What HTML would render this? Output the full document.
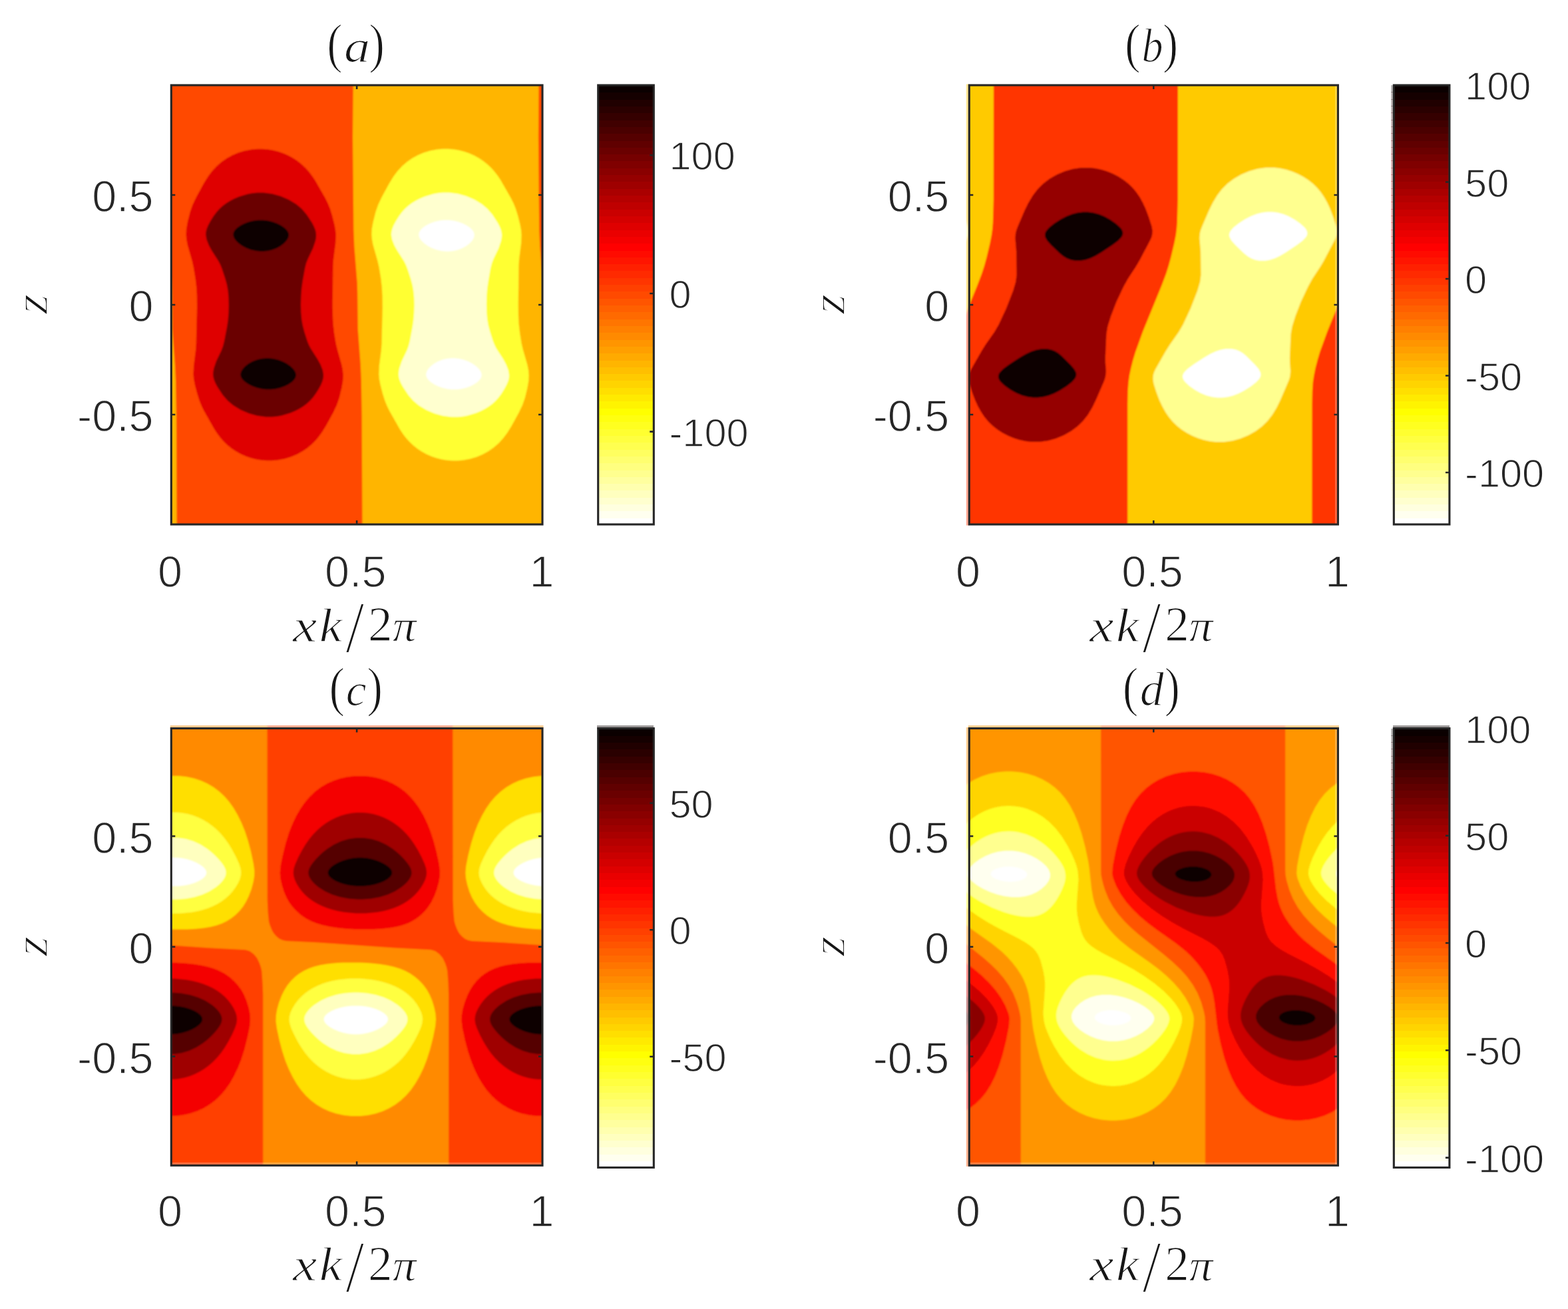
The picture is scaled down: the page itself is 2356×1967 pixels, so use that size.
<!DOCTYPE html>
<html lang="en"><head><meta charset="utf-8"><title>Contour panels (a)-(d)</title>
<style>html,body{margin:0;padding:0;background:#fff}body{width:2356px;height:1967px;overflow:hidden}svg{display:block}.t,.cb{stroke:#fff;stroke-width:1.3px;paint-order:fill stroke}.t{font-family:"Liberation Sans",sans-serif;font-size:66.5px;fill:#262626}.cb{font-family:"Liberation Sans",sans-serif;font-size:59.5px;fill:#262626}.m{font-family:"Liberation Serif",serif;font-style:italic;font-size:100px;fill:#161616;stroke:#fff;stroke-width:1.8px;paint-order:fill stroke}.r{font-style:normal}</style></head><body>
<svg width="2356" height="1967" viewBox="0 0 2356 1967">
<rect width="2356" height="1967" fill="#fff"/>
<defs><filter id="soft" x="-2%" y="-2%" width="104%" height="104%"><feGaussianBlur stdDeviation="0.9"/></filter></defs>
<g id="panel-a">
<defs>
<clipPath id="clip_a"><rect x="257.3" y="128.0" width="557.7" height="660.0"/></clipPath>
<g id="fill_a" filter="url(#soft)">
<rect x="249.3" y="120.0" width="573.7" height="676.0" fill="#ffb500"/>
<path fill="#ff4a00" d="M251.9,118.0L251.2,206.2L252.5,345.5L253.6,370.5L257.8,425.0L258.3,441.0L258.9,494.8L262.9,548.2L264.0,571.5L264.9,624.0L265.6,798.0L544.5,798.0L543.7,624.0L542.8,571.5L541.8,548.2L537.8,494.8L537.2,441.0L536.7,425.0L532.4,370.5L531.4,345.5L530.0,206.2L530.8,118.0ZM809.6,118.0L808.9,206.2L810.2,345.5L811.3,370.5L815.5,425.0L816.0,441.0L816.6,494.8L820.6,548.2L821.7,571.5L822.6,624.0L823.3,798.0L1102.2,798.0L1101.4,624.0L1100.5,571.5L1099.5,548.2L1095.5,494.8L1094.9,441.0L1094.4,425.0L1090.1,370.5L1089.1,345.5L1087.7,206.2L1088.5,118.0Z"/>
<path fill="#df0000" d="M387.6,223.8L378.2,224.5L367.5,226.5L358.3,229.2L349.4,233.0L340.7,237.8L332.8,243.2L325.6,249.5L318.8,256.8L312.6,265.0L306.2,275.2L294.8,296.2L289.3,307.8L285.5,318.8L281.8,333.5L279.9,344.2L279.5,352.8L280.1,359.8L281.7,368.2L288.4,391.5L290.5,400.8L293.5,418.8L295.1,432.5L295.8,445.8L295.9,462.8L294.6,516.8L293.9,526.5L291.0,549.8L290.4,562.2L291.0,569.5L292.5,577.5L296.1,591.2L299.4,601.8L302.5,609.5L306.4,617.5L322.3,645.5L326.8,652.2L331.4,658.2L336.3,663.8L341.5,668.8L348.0,674.0L354.8,678.5L362.1,682.5L369.4,685.8L376.7,688.2L384.6,690.2L392.0,691.5L401.4,692.2L407.7,692.2L417.1,691.5L427.8,689.5L436.9,686.8L445.9,683.0L454.6,678.2L462.6,672.8L470.1,666.2L476.9,659.0L483.3,650.5L489.7,640.2L500.8,620.0L506.2,608.5L509.9,597.8L513.3,583.8L515.3,572.5L515.8,563.8L515.1,556.5L513.5,548.2L506.9,525.0L504.8,516.0L502.2,500.2L500.7,486.5L500.1,474.5L499.8,458.0L500.5,399.5L501.2,389.5L504.3,365.5L504.8,353.0L504.2,345.8L502.6,337.5L499.2,323.8L496.0,313.5L492.9,306.0L488.9,297.8L473.3,270.5L468.7,263.8L464.1,257.8L459.1,252.2L453.8,247.2L447.3,242.0L440.5,237.5L433.2,233.5L425.8,230.2L418.6,227.8L410.7,225.8L403.2,224.5L393.8,223.8Z"/>
<path fill="#6a0000" d="M386.7,289.5L379.2,290.2L372.4,291.5L359.1,295.5L352.0,298.5L345.8,301.8L340.1,305.2L334.7,309.2L329.8,313.8L325.3,318.8L320.8,324.8L316.3,332.0L312.8,338.5L310.6,343.8L309.4,348.5L309.2,353.0L310.4,360.0L313.7,368.5L317.9,376.2L328.3,392.5L331.0,397.8L333.4,403.8L338.2,418.2L340.9,428.0L342.5,437.0L343.4,447.5L343.7,458.8L343.4,470.2L342.5,481.3L341.1,491.0L336.9,512.8L335.0,520.2L332.6,526.8L324.9,542.8L321.3,553.5L320.4,558.2L320.1,562.5L320.5,566.5L321.6,570.8L323.5,575.5L326.4,581.0L334.8,593.8L342.2,602.2L350.6,609.2L361.7,616.0L374.0,621.2L386.4,624.8L399.6,626.5L409.0,626.5L416.5,625.8L423.3,624.5L436.6,620.5L443.6,617.5L449.9,614.2L455.6,610.8L460.9,606.8L465.8,602.2L470.3,597.2L474.5,591.5L478.9,584.5L482.4,578.0L484.6,572.5L485.8,567.8L486.1,563.2L484.9,556.2L481.6,547.8L477.2,539.8L466.8,523.5L464.1,518.2L461.8,512.5L457.4,498.8L454.8,488.8L453.3,480.0L452.3,469.5L452.0,457.5L452.4,444.8L453.3,433.0L454.8,422.2L458.2,403.2L460.1,395.5L462.7,389.0L470.3,373.0L474.0,362.0L474.9,357.2L475.1,353.0L474.7,349.0L473.7,345.0L471.7,340.2L468.9,334.8L460.7,322.2L453.4,313.8L445.1,306.8L433.9,300.0L421.7,294.8L409.2,291.2L396.1,289.5Z"/>
<path fill="#0b0000" d="M387.8,330.8L381.4,331.5L374.0,333.2L367.3,335.8L361.0,339.0L356.1,342.5L352.7,346.0L350.8,349.5L350.4,353.2L351.5,357.2L354.3,361.5L358.7,365.8L364.4,369.8L370.1,372.8L376.7,375.2L384.1,377.0L391.0,377.8L396.1,377.8L402.9,377.0L409.1,375.5L415.7,373.0L421.5,369.8L426.7,365.8L430.8,361.2L433.2,357.0L434.0,353.0L433.2,349.2L431.0,345.8L427.4,342.2L422.3,338.8L416.3,335.8L409.5,333.2L402.1,331.5L395.7,330.8ZM399.0,538.2L392.2,539.0L386.0,540.5L379.5,543.0L373.6,546.2L368.4,550.2L364.4,554.8L362.0,559.0L361.3,563.0L362.1,566.8L364.3,570.2L367.9,573.8L373.1,577.2L379.1,580.2L385.9,582.8L393.4,584.5L399.7,585.2L407.7,585.2L414.0,584.5L421.4,582.8L428.1,580.2L434.0,577.2L439.0,573.8L442.6,570.0L444.4,566.5L444.9,562.8L443.7,558.8L440.9,554.5L436.5,550.2L430.8,546.2L425.0,543.2L418.4,540.8L411.1,539.0L404.2,538.2Z"/>
<path fill="#ffff30" d="M666.4,223.8L657.1,224.5L646.3,226.5L637.2,229.2L628.2,233.0L619.5,237.8L611.6,243.2L604.4,249.5L597.6,256.8L591.4,265.0L585.1,275.2L573.6,296.2L568.2,307.8L564.4,318.8L560.7,333.5L558.7,344.2L558.3,352.8L559.0,359.8L560.6,368.2L567.2,391.5L569.4,400.8L572.4,418.8L573.9,432.5L574.6,445.8L574.8,462.8L573.5,516.8L572.8,526.5L569.8,549.8L569.3,562.2L569.9,569.5L571.4,577.5L574.9,591.2L578.2,601.8L581.3,609.5L585.2,617.5L601.1,645.5L605.6,652.2L610.2,658.2L615.2,663.8L620.4,668.8L626.9,674.0L633.6,678.5L640.9,682.5L648.3,685.8L655.6,688.2L663.5,690.2L670.9,691.5L680.3,692.2L686.5,692.2L695.9,691.5L706.6,689.5L715.8,686.8L724.8,683.0L733.5,678.2L741.4,672.8L749.0,666.2L755.7,659.0L762.1,650.5L768.5,640.2L779.6,620.0L785.1,608.5L788.8,597.8L792.2,583.8L794.2,572.5L794.6,563.8L794.0,556.5L792.4,548.2L785.7,525.0L783.6,516.0L781.1,500.2L779.5,486.5L778.9,474.5L778.7,458.0L779.4,399.5L780.0,389.5L783.1,365.5L783.6,353.0L783.0,345.8L781.5,337.5L778.0,323.8L774.8,313.5L771.8,306.0L767.7,297.8L752.1,270.5L747.6,263.8L742.9,257.8L738.0,252.2L732.7,247.2L726.1,242.0L719.4,237.5L712.1,233.5L704.7,230.2L697.4,227.8L689.5,225.8L682.1,224.5L672.7,223.8Z"/>
<path fill="#ffffcf" d="M665.5,289.5L658.0,290.2L651.2,291.5L638.0,295.5L630.9,298.5L624.6,301.8L618.9,305.2L613.6,309.2L608.6,313.8L604.1,318.8L599.7,324.8L595.1,332.0L591.6,338.5L589.5,343.8L588.3,348.5L588.0,353.0L589.2,360.0L592.5,368.5L596.8,376.2L607.2,392.5L609.8,397.8L612.2,403.8L617.0,418.2L619.7,428.0L621.3,437.0L622.3,447.5L622.6,458.8L622.2,470.2L621.3,481.3L619.9,491.0L615.8,512.8L613.9,520.2L611.4,526.8L603.7,542.8L600.1,553.5L599.2,558.2L599.0,562.5L599.3,566.5L600.4,570.8L602.3,575.5L605.3,581.0L613.7,593.8L621.1,602.2L629.4,609.2L640.6,616.0L652.8,621.2L665.3,624.8L678.5,626.5L687.8,626.5L695.4,625.8L702.1,624.5L715.4,620.5L722.5,617.5L728.8,614.2L734.4,610.8L739.8,606.8L744.7,602.2L749.1,597.2L753.4,591.5L757.7,584.5L761.2,578.0L763.5,572.5L764.7,567.8L764.9,563.2L763.7,556.2L760.4,547.8L756.1,539.8L745.6,523.5L743.0,518.2L740.7,512.5L736.3,498.8L733.6,488.8L732.1,480.0L731.2,469.5L730.9,457.5L731.2,444.8L732.1,433.0L733.7,422.2L737.0,403.2L739.0,395.5L741.5,389.0L749.2,373.0L752.8,362.0L753.7,357.2L754.0,353.0L753.5,349.0L752.5,345.0L750.6,340.2L747.7,334.8L739.6,322.2L732.2,313.8L723.9,306.8L712.8,300.0L700.5,294.8L688.1,291.2L674.9,289.5Z"/>
<path fill="#ffffff" d="M666.6,330.8L660.3,331.5L652.9,333.2L646.1,335.8L639.8,339.0L634.9,342.5L631.6,346.0L629.7,349.5L629.2,353.2L630.3,357.2L633.2,361.5L637.5,365.8L643.2,369.8L649.0,372.8L655.6,375.2L662.9,377.0L669.8,377.8L674.9,377.8L681.7,377.0L688.0,375.5L694.5,373.0L700.4,369.8L705.6,365.8L709.7,361.2L712.1,357.0L712.8,353.0L712.0,349.2L709.8,345.8L706.3,342.2L701.1,338.8L695.2,335.8L688.3,333.2L680.9,331.5L674.6,330.8ZM677.9,538.2L671.1,539.0L664.8,540.5L658.3,543.0L652.5,546.2L647.3,550.2L643.2,554.8L640.9,559.0L640.1,563.0L641.0,566.8L643.2,570.2L646.8,573.8L651.9,577.2L657.9,580.2L664.8,582.8L672.2,584.5L678.6,585.2L686.5,585.2L692.9,584.5L700.2,582.8L707.0,580.2L712.8,577.2L717.8,573.8L721.4,570.0L723.3,566.5L723.7,562.8L722.6,558.8L719.7,554.5L715.3,550.2L709.6,546.2L703.9,543.2L697.2,540.8L689.9,539.0L683.0,538.2Z"/>
</g>
</defs>
<use href="#fill_a" clip-path="url(#clip_a)"/>
<path d="M536.1,788.0 v-6.0 M536.1,128.0 v6.0 M257.3,293.0 h6.0 M815.0,293.0 h-6.0 M257.3,458.0 h6.0 M815.0,458.0 h-6.0 M257.3,623.0 h6.0 M815.0,623.0 h-6.0" stroke="#262626" stroke-width="2.6" fill="none"/>
<rect x="257.3" y="128.0" width="557.7" height="660.0" fill="none" stroke="#262626" stroke-width="3.1"/>
<text class="t" x="255.5" y="882.2" text-anchor="middle">0</text>
<text class="t" x="534.3" y="882.2" text-anchor="middle">0.5</text>
<text class="t" x="814.0" y="882.2" text-anchor="middle">1</text>
<text class="t" x="230.6" y="318.2" text-anchor="end">0.5</text>
<text class="t" x="230.6" y="483.2" text-anchor="end">0</text>
<text class="t" x="230.6" y="648.2" text-anchor="end">-0.5</text>
<text class="m r" transform="translate(491.16,93.48) scale(0.6980,0.8200)">(</text>
<text class="m" transform="translate(516.96,92.62) scale(0.7814,0.6792)">a</text>
<text class="m r" transform="translate(554.25,93.48) scale(0.7154,0.8200)">)</text>
<text class="m" transform="translate(440.12,963.60) scale(0.8180,0.6923)">x</text>
<text class="m" transform="translate(479.76,963.60) scale(0.7814,0.7246)">k</text>
<text class="m r" transform="translate(519.30,980.29) scale(1.0109,1.1053)">/</text>
<text class="m r" transform="translate(553.10,962.90) scale(0.7325,0.7364)">2</text>
<text class="m" transform="translate(589.64,962.92) scale(0.7135,0.6774)">π</text>
<text class="m" style="stroke-width:2.6px" transform="translate(71.40,472.12) rotate(-90) scale(0.7792,0.7130)">z</text>
<g shape-rendering="crispEdges">
<rect x="898.7" y="777.69" width="83.6" height="11.31" fill="#ffffff"/>
<rect x="898.7" y="767.38" width="83.6" height="11.31" fill="#ffffef"/>
<rect x="898.7" y="757.06" width="83.6" height="11.31" fill="#ffffdf"/>
<rect x="898.7" y="746.75" width="83.6" height="11.31" fill="#ffffcf"/>
<rect x="898.7" y="736.44" width="83.6" height="11.31" fill="#ffffbf"/>
<rect x="898.7" y="726.12" width="83.6" height="11.31" fill="#ffffaf"/>
<rect x="898.7" y="715.81" width="83.6" height="11.31" fill="#ffff9f"/>
<rect x="898.7" y="705.50" width="83.6" height="11.31" fill="#ffff8f"/>
<rect x="898.7" y="695.19" width="83.6" height="11.31" fill="#ffff80"/>
<rect x="898.7" y="684.88" width="83.6" height="11.31" fill="#ffff70"/>
<rect x="898.7" y="674.56" width="83.6" height="11.31" fill="#ffff60"/>
<rect x="898.7" y="664.25" width="83.6" height="11.31" fill="#ffff50"/>
<rect x="898.7" y="653.94" width="83.6" height="11.31" fill="#ffff40"/>
<rect x="898.7" y="643.62" width="83.6" height="11.31" fill="#ffff30"/>
<rect x="898.7" y="633.31" width="83.6" height="11.31" fill="#ffff20"/>
<rect x="898.7" y="623.00" width="83.6" height="11.31" fill="#ffff10"/>
<rect x="898.7" y="612.69" width="83.6" height="11.31" fill="#ffff00"/>
<rect x="898.7" y="602.38" width="83.6" height="11.31" fill="#fff400"/>
<rect x="898.7" y="592.06" width="83.6" height="11.31" fill="#ffea00"/>
<rect x="898.7" y="581.75" width="83.6" height="11.31" fill="#ffdf00"/>
<rect x="898.7" y="571.44" width="83.6" height="11.31" fill="#ffd400"/>
<rect x="898.7" y="561.12" width="83.6" height="11.31" fill="#ffca00"/>
<rect x="898.7" y="550.81" width="83.6" height="11.31" fill="#ffbf00"/>
<rect x="898.7" y="540.50" width="83.6" height="11.31" fill="#ffb500"/>
<rect x="898.7" y="530.19" width="83.6" height="11.31" fill="#ffaa00"/>
<rect x="898.7" y="519.88" width="83.6" height="11.31" fill="#ff9f00"/>
<rect x="898.7" y="509.56" width="83.6" height="11.31" fill="#ff9500"/>
<rect x="898.7" y="499.25" width="83.6" height="11.31" fill="#ff8a00"/>
<rect x="898.7" y="488.94" width="83.6" height="11.31" fill="#ff8000"/>
<rect x="898.7" y="478.62" width="83.6" height="11.31" fill="#ff7500"/>
<rect x="898.7" y="468.31" width="83.6" height="11.31" fill="#ff6a00"/>
<rect x="898.7" y="458.00" width="83.6" height="11.31" fill="#ff6000"/>
<rect x="898.7" y="447.69" width="83.6" height="11.31" fill="#ff5500"/>
<rect x="898.7" y="437.38" width="83.6" height="11.31" fill="#ff4a00"/>
<rect x="898.7" y="427.06" width="83.6" height="11.31" fill="#ff4000"/>
<rect x="898.7" y="416.75" width="83.6" height="11.31" fill="#ff3500"/>
<rect x="898.7" y="406.44" width="83.6" height="11.31" fill="#ff2a00"/>
<rect x="898.7" y="396.12" width="83.6" height="11.31" fill="#ff2000"/>
<rect x="898.7" y="385.81" width="83.6" height="11.31" fill="#ff1500"/>
<rect x="898.7" y="375.50" width="83.6" height="11.31" fill="#ff0b00"/>
<rect x="898.7" y="365.19" width="83.6" height="11.31" fill="#ff0000"/>
<rect x="898.7" y="354.88" width="83.6" height="11.31" fill="#f40000"/>
<rect x="898.7" y="344.56" width="83.6" height="11.31" fill="#ea0000"/>
<rect x="898.7" y="334.25" width="83.6" height="11.31" fill="#df0000"/>
<rect x="898.7" y="323.94" width="83.6" height="11.31" fill="#d40000"/>
<rect x="898.7" y="313.62" width="83.6" height="11.31" fill="#ca0000"/>
<rect x="898.7" y="303.31" width="83.6" height="11.31" fill="#bf0000"/>
<rect x="898.7" y="293.00" width="83.6" height="11.31" fill="#b50000"/>
<rect x="898.7" y="282.69" width="83.6" height="11.31" fill="#aa0000"/>
<rect x="898.7" y="272.38" width="83.6" height="11.31" fill="#9f0000"/>
<rect x="898.7" y="262.06" width="83.6" height="11.31" fill="#950000"/>
<rect x="898.7" y="251.75" width="83.6" height="11.31" fill="#8a0000"/>
<rect x="898.7" y="241.44" width="83.6" height="11.31" fill="#800000"/>
<rect x="898.7" y="231.12" width="83.6" height="11.31" fill="#750000"/>
<rect x="898.7" y="220.81" width="83.6" height="11.31" fill="#6a0000"/>
<rect x="898.7" y="210.50" width="83.6" height="11.31" fill="#600000"/>
<rect x="898.7" y="200.19" width="83.6" height="11.31" fill="#550000"/>
<rect x="898.7" y="189.88" width="83.6" height="11.31" fill="#4a0000"/>
<rect x="898.7" y="179.56" width="83.6" height="11.31" fill="#400000"/>
<rect x="898.7" y="169.25" width="83.6" height="11.31" fill="#350000"/>
<rect x="898.7" y="158.94" width="83.6" height="11.31" fill="#2a0000"/>
<rect x="898.7" y="148.62" width="83.6" height="11.31" fill="#200000"/>
<rect x="898.7" y="138.31" width="83.6" height="11.31" fill="#150000"/>
<rect x="898.7" y="128.00" width="83.6" height="11.31" fill="#0b0000"/>
</g>
<text class="cb" x="1005.5" y="255.4">100</text>
<text class="cb" x="1005.5" y="463.1">0</text>
<text class="cb" x="1005.5" y="670.7">-100</text>
<path d="M982.3,233.3 h-6 M982.3,441.0 h-6 M982.3,648.6 h-6" stroke="#262626" stroke-width="2.6" fill="none"/>
<rect x="898.7" y="128.0" width="83.6" height="660.0" fill="none" stroke="#262626" stroke-width="3.1"/>
</g>
<g id="panel-b">
<defs>
<clipPath id="clip_b"><rect x="1456.3" y="128.0" width="554.1" height="660.0"/></clipPath>
<g id="fill_b" filter="url(#soft)">
<rect x="1448.3" y="120.0" width="570.1" height="676.0" fill="#ffca00"/>
<path fill="#ff3500" d="M1492.9,118.0L1492.8,299.8L1491.8,334.5L1491.0,344.5L1489.8,353.2L1487.4,365.8L1482.4,386.8L1479.0,399.2L1475.2,411.0L1468.5,428.8L1440.2,498.3L1429.2,528.5L1425.5,541.0L1422.3,553.2L1420.1,564.2L1418.6,574.2L1417.7,587.8L1417.3,607.0L1417.2,798.0L1694.3,798.0L1694.3,607.0L1694.7,587.8L1695.7,574.2L1697.1,564.2L1699.4,553.2L1702.5,541.0L1706.3,528.5L1717.2,498.3L1745.6,428.8L1752.3,411.0L1756.0,399.2L1759.4,386.8L1764.4,365.8L1766.9,353.2L1768.0,344.5L1768.8,334.5L1769.8,299.8L1769.9,118.0ZM2047.0,118.0L2046.9,299.8L2045.9,334.5L2045.1,344.5L2043.9,353.2L2041.5,365.8L2036.5,386.8L2033.1,399.2L2029.3,411.0L2022.6,428.8L1994.3,498.3L1983.3,528.5L1979.6,541.0L1976.4,553.2L1974.2,564.2L1972.7,574.2L1971.8,587.8L1971.4,607.0L1971.3,798.0L2248.4,798.0L2248.4,607.0L2248.8,587.8L2249.8,574.2L2251.2,564.2L2253.5,553.2L2256.6,541.0L2260.4,528.5L2271.3,498.3L2299.7,428.8L2306.4,411.0L2310.1,399.2L2313.5,386.8L2318.5,365.8L2321.0,353.2L2322.1,344.5L2322.9,334.5L2323.9,299.8L2324.0,118.0Z"/>
<path fill="#950000" d="M1624.7,252.0L1612.4,253.8L1599.9,257.2L1588.1,262.2L1576.8,268.8L1567.3,276.0L1559.3,284.0L1552.0,293.5L1545.2,304.8L1539.4,316.5L1529.6,339.5L1527.2,345.8L1525.9,351.0L1525.4,358.0L1527.0,377.8L1527.5,413.0L1526.1,423.8L1522.2,437.0L1512.0,463.2L1500.6,487.8L1494.2,498.8L1480.9,517.8L1474.8,527.5L1459.2,554.8L1457.0,559.8L1455.8,564.2L1455.4,570.0L1456.6,576.8L1460.6,589.5L1465.3,601.8L1469.6,611.0L1474.6,619.8L1479.7,627.2L1485.4,634.0L1491.6,640.0L1498.6,645.5L1506.3,650.5L1514.5,654.8L1522.8,658.2L1531.5,661.0L1540.7,663.0L1549.0,664.0L1562.5,664.0L1574.8,662.2L1586.6,659.0L1598.6,654.0L1609.6,647.8L1619.0,640.8L1627.2,632.8L1634.5,623.5L1641.0,612.8L1646.4,601.8L1658.1,574.8L1660.0,569.8L1661.2,565.2L1661.9,557.8L1661.0,544.2L1660.9,537.5L1662.5,501.8L1664.4,490.5L1669.2,475.0L1677.4,453.8L1688.1,431.0L1694.9,418.8L1706.7,400.8L1711.6,392.5L1728.3,361.0L1730.2,356.5L1731.3,352.5L1731.7,346.8L1730.6,340.2L1726.0,326.0L1721.3,313.5L1717.0,304.2L1712.4,296.0L1707.2,288.5L1701.8,282.0L1695.6,276.0L1688.6,270.5L1680.9,265.5L1672.8,261.2L1664.4,257.8L1655.7,255.0L1646.5,253.0L1638.2,252.0ZM2178.8,252.0L2166.5,253.8L2154.0,257.2L2142.2,262.2L2130.9,268.8L2121.4,276.0L2113.4,284.0L2106.1,293.5L2099.3,304.8L2093.5,316.5L2083.7,339.5L2081.3,345.8L2080.0,351.0L2079.5,358.0L2081.1,377.8L2081.6,413.0L2080.2,423.8L2076.3,437.0L2066.1,463.2L2054.7,487.8L2048.3,498.8L2035.0,517.8L2028.9,527.5L2013.3,554.8L2011.1,559.8L2009.9,564.2L2009.5,570.0L2010.7,576.8L2014.7,589.5L2019.4,601.8L2023.7,611.0L2028.7,619.8L2033.8,627.2L2039.5,634.0L2045.7,640.0L2052.7,645.5L2060.4,650.5L2068.6,654.8L2076.9,658.2L2085.6,661.0L2094.8,663.0L2103.1,664.0L2116.6,664.0L2128.9,662.2L2140.7,659.0L2152.7,654.0L2163.7,647.8L2173.1,640.8L2181.3,632.8L2188.6,623.5L2195.1,612.8L2200.5,601.8L2212.2,574.8L2214.1,569.8L2215.3,565.2L2216.0,557.8L2215.1,544.2L2215.0,537.5L2216.6,501.8L2218.5,490.5L2223.3,475.0L2231.5,453.8L2242.2,431.0L2249.0,418.8L2260.8,400.8L2265.7,392.5L2282.4,361.0L2284.3,356.5L2285.4,352.5L2285.8,346.8L2284.7,340.2L2280.1,326.0L2275.4,313.5L2271.1,304.2L2266.5,296.0L2261.3,288.5L2255.9,282.0L2249.7,276.0L2242.7,270.5L2235.0,265.5L2226.9,261.2L2218.5,257.8L2209.8,255.0L2200.6,253.0L2192.3,252.0Z"/>
<path fill="#0b0000" d="M1627.6,318.5L1619.2,319.5L1611.3,321.5L1602.8,324.8L1594.1,329.2L1584.3,335.5L1576.5,341.8L1572.1,346.8L1570.7,349.2L1570.1,351.5L1570.0,354.0L1570.5,356.5L1573.4,361.8L1579.2,368.2L1592.0,380.5L1597.5,385.0L1602.9,388.2L1608.7,390.5L1615.0,391.8L1624.2,391.8L1631.2,390.5L1638.7,388.0L1646.1,384.5L1654.9,379.2L1671.8,368.0L1680.1,361.8L1685.1,356.5L1686.5,354.0L1687.2,351.5L1687.2,349.2L1686.6,347.0L1685.3,344.5L1683.3,342.0L1676.8,336.0L1667.8,329.8L1659.1,325.0L1651.1,321.8L1642.5,319.5L1634.3,318.5ZM1564.5,524.2L1556.5,525.8L1549.1,528.2L1541.2,532.0L1532.2,537.2L1516.1,547.8L1507.3,554.2L1502.2,559.5L1500.7,562.0L1500.0,564.5L1499.9,566.8L1500.5,569.0L1501.7,571.5L1503.6,574.0L1509.7,579.8L1518.6,586.0L1527.1,590.8L1535.7,594.2L1544.3,596.5L1552.6,597.5L1559.3,597.5L1567.6,596.5L1575.5,594.5L1584.0,591.2L1592.2,587.0L1602.5,580.5L1610.5,574.2L1615.0,569.2L1616.4,566.8L1617.1,564.5L1617.3,562.0L1616.8,559.5L1613.9,554.2L1608.5,548.0L1595.5,535.0L1590.1,530.5L1585.1,527.5L1580.0,525.5L1573.8,524.2Z"/>
<path fill="#ffff8f" d="M1347.7,252.0L1335.3,253.8L1322.9,257.2L1311.0,262.2L1299.8,268.8L1290.2,276.0L1282.2,284.0L1274.9,293.5L1268.2,304.8L1262.4,316.5L1252.5,339.5L1250.1,345.8L1248.8,351.0L1248.3,358.0L1250.0,377.8L1250.5,413.0L1249.1,423.8L1245.2,437.0L1235.0,463.2L1223.6,487.8L1217.2,498.8L1203.9,517.8L1197.7,527.5L1182.2,554.8L1179.9,559.8L1178.7,564.2L1178.4,570.0L1179.5,576.8L1183.5,589.5L1188.2,601.8L1192.6,611.0L1197.5,619.8L1202.7,627.2L1208.4,634.0L1214.6,640.0L1221.5,645.5L1229.3,650.5L1237.4,654.8L1245.8,658.2L1254.4,661.0L1263.6,663.0L1272.0,664.0L1285.5,664.0L1297.8,662.2L1309.5,659.0L1321.6,654.0L1332.6,647.8L1342.0,640.8L1350.2,632.8L1357.4,623.5L1364.0,612.8L1369.4,601.8L1381.0,574.8L1383.0,569.8L1384.2,565.2L1384.9,557.8L1383.9,544.2L1383.8,537.5L1385.4,501.8L1387.4,490.5L1392.2,475.0L1400.4,453.8L1411.1,431.0L1417.8,418.8L1429.7,400.8L1434.6,392.5L1451.2,361.0L1453.2,356.5L1454.3,352.5L1454.6,346.8L1453.5,340.2L1449.0,326.0L1444.3,313.5L1440.0,304.2L1435.3,296.0L1430.2,288.5L1424.7,282.0L1418.6,276.0L1411.6,270.5L1403.8,265.5L1395.7,261.2L1387.3,257.8L1378.7,255.0L1369.5,253.0L1361.2,252.0ZM1901.8,252.0L1889.4,253.8L1877.0,257.2L1865.1,262.2L1853.9,268.8L1844.3,276.0L1836.3,284.0L1829.0,293.5L1822.3,304.8L1816.5,316.5L1806.6,339.5L1804.2,345.8L1802.9,351.0L1802.4,358.0L1804.1,377.8L1804.6,413.0L1803.2,423.8L1799.3,437.0L1789.1,463.2L1777.7,487.8L1771.3,498.8L1758.0,517.8L1751.8,527.5L1736.3,554.8L1734.0,559.8L1732.8,564.2L1732.5,570.0L1733.6,576.8L1737.6,589.5L1742.3,601.8L1746.7,611.0L1751.6,619.8L1756.8,627.2L1762.5,634.0L1768.7,640.0L1775.6,645.5L1783.4,650.5L1791.5,654.8L1799.9,658.2L1808.5,661.0L1817.7,663.0L1826.1,664.0L1839.6,664.0L1851.9,662.2L1863.6,659.0L1875.7,654.0L1886.7,647.8L1896.1,640.8L1904.3,632.8L1911.5,623.5L1918.1,612.8L1923.5,601.8L1935.1,574.8L1937.1,569.8L1938.3,565.2L1939.0,557.8L1938.0,544.2L1937.9,537.5L1939.5,501.8L1941.5,490.5L1946.3,475.0L1954.5,453.8L1965.2,431.0L1971.9,418.8L1983.8,400.8L1988.7,392.5L2005.3,361.0L2007.3,356.5L2008.4,352.5L2008.7,346.8L2007.6,340.2L2003.1,326.0L1998.4,313.5L1994.1,304.2L1989.4,296.0L1984.3,288.5L1978.8,282.0L1972.7,276.0L1965.7,270.5L1957.9,265.5L1949.8,261.2L1941.4,257.8L1932.8,255.0L1923.6,253.0L1915.3,252.0Z"/>
<path fill="#ffffff" d="M1904.6,318.5L1896.3,319.5L1888.3,321.5L1879.9,324.8L1871.1,329.2L1861.4,335.5L1853.5,341.8L1849.1,346.8L1847.8,349.2L1847.1,351.5L1847.0,354.0L1847.6,356.5L1850.5,361.8L1856.3,368.2L1869.0,380.5L1874.6,385.0L1880.0,388.2L1885.8,390.5L1892.1,391.8L1901.3,391.8L1908.2,390.5L1915.8,388.0L1923.2,384.5L1932.0,379.2L1948.8,368.0L1957.1,361.8L1962.1,356.5L1963.6,354.0L1964.3,351.5L1964.2,349.2L1963.6,347.0L1962.3,344.5L1960.4,342.0L1953.8,336.0L1944.8,329.8L1936.2,325.0L1928.2,321.8L1919.6,319.5L1911.3,318.5ZM1841.6,524.2L1833.6,525.8L1826.2,528.2L1818.3,532.0L1809.3,537.2L1793.2,547.8L1784.4,554.2L1779.3,559.5L1777.8,562.0L1777.0,564.5L1777.0,566.8L1777.5,569.0L1778.8,571.5L1780.7,574.0L1786.8,579.8L1795.6,586.0L1804.2,590.8L1812.7,594.2L1821.3,596.5L1829.6,597.5L1836.3,597.5L1844.6,596.5L1852.6,594.5L1861.0,591.2L1869.3,587.0L1879.5,580.5L1887.5,574.2L1892.1,569.2L1893.5,566.8L1894.2,564.5L1894.3,562.0L1893.8,559.5L1891.0,554.2L1885.6,548.0L1872.6,535.0L1867.2,530.5L1862.1,527.5L1857.0,525.5L1850.8,524.2Z"/>
</g>
<clipPath id="clip_b_left"><rect x="1451.8" y="126.5" width="4.5" height="663.0"/></clipPath>
</defs>
<use href="#fill_b" clip-path="url(#clip_b_left)" opacity="0.42"/>
<use href="#fill_b" clip-path="url(#clip_b)"/>
<rect x="2005.9" y="128.0" width="4.5" height="660.0" fill="#fff" opacity="0.25"/>
<path d="M1733.3,788.0 v-6.0 M1733.3,128.0 v6.0 M1456.3,293.0 h6.0 M2010.4,293.0 h-6.0 M1456.3,458.0 h6.0 M2010.4,458.0 h-6.0 M1456.3,623.0 h6.0 M2010.4,623.0 h-6.0" stroke="#262626" stroke-width="2.6" fill="none"/>
<rect x="1456.3" y="128.0" width="554.1" height="660.0" fill="none" stroke="#262626" stroke-width="3.1"/>
<text class="t" x="1454.5" y="882.2" text-anchor="middle">0</text>
<text class="t" x="1731.5" y="882.2" text-anchor="middle">0.5</text>
<text class="t" x="2009.4" y="882.2" text-anchor="middle">1</text>
<text class="t" x="1426.3" y="318.2" text-anchor="end">0.5</text>
<text class="t" x="1426.3" y="483.2" text-anchor="end">0</text>
<text class="t" x="1426.3" y="648.2" text-anchor="end">-0.5</text>
<text class="m r" transform="translate(1690.11,93.37) scale(0.7098,0.8156)">(</text>
<text class="m" transform="translate(1715.53,93.07) scale(0.6419,0.7271)">b</text>
<text class="m r" transform="translate(1746.91,93.37) scale(0.6962,0.8156)">)</text>
<text class="m" transform="translate(1637.32,963.60) scale(0.8180,0.6923)">x</text>
<text class="m" transform="translate(1676.96,963.60) scale(0.7814,0.7246)">k</text>
<text class="m r" transform="translate(1716.50,980.29) scale(1.0109,1.1053)">/</text>
<text class="m r" transform="translate(1750.30,962.90) scale(0.7325,0.7364)">2</text>
<text class="m" transform="translate(1786.84,962.92) scale(0.7135,0.6774)">π</text>
<text class="m" style="stroke-width:2.6px" transform="translate(1269.30,472.12) rotate(-90) scale(0.7792,0.7130)">z</text>
<g shape-rendering="crispEdges">
<rect x="2089.8" y="777.69" width="4.5" height="11.31" fill="#ffffff" opacity="0.28"/>
<rect x="2094.3" y="777.69" width="83.6" height="11.31" fill="#ffffff"/>
<rect x="2089.8" y="767.38" width="4.5" height="11.31" fill="#ffffef" opacity="0.28"/>
<rect x="2094.3" y="767.38" width="83.6" height="11.31" fill="#ffffef"/>
<rect x="2089.8" y="757.06" width="4.5" height="11.31" fill="#ffffdf" opacity="0.28"/>
<rect x="2094.3" y="757.06" width="83.6" height="11.31" fill="#ffffdf"/>
<rect x="2089.8" y="746.75" width="4.5" height="11.31" fill="#ffffcf" opacity="0.28"/>
<rect x="2094.3" y="746.75" width="83.6" height="11.31" fill="#ffffcf"/>
<rect x="2089.8" y="736.44" width="4.5" height="11.31" fill="#ffffbf" opacity="0.28"/>
<rect x="2094.3" y="736.44" width="83.6" height="11.31" fill="#ffffbf"/>
<rect x="2089.8" y="726.12" width="4.5" height="11.31" fill="#ffffaf" opacity="0.28"/>
<rect x="2094.3" y="726.12" width="83.6" height="11.31" fill="#ffffaf"/>
<rect x="2089.8" y="715.81" width="4.5" height="11.31" fill="#ffff9f" opacity="0.28"/>
<rect x="2094.3" y="715.81" width="83.6" height="11.31" fill="#ffff9f"/>
<rect x="2089.8" y="705.50" width="4.5" height="11.31" fill="#ffff8f" opacity="0.28"/>
<rect x="2094.3" y="705.50" width="83.6" height="11.31" fill="#ffff8f"/>
<rect x="2089.8" y="695.19" width="4.5" height="11.31" fill="#ffff80" opacity="0.28"/>
<rect x="2094.3" y="695.19" width="83.6" height="11.31" fill="#ffff80"/>
<rect x="2089.8" y="684.88" width="4.5" height="11.31" fill="#ffff70" opacity="0.28"/>
<rect x="2094.3" y="684.88" width="83.6" height="11.31" fill="#ffff70"/>
<rect x="2089.8" y="674.56" width="4.5" height="11.31" fill="#ffff60" opacity="0.28"/>
<rect x="2094.3" y="674.56" width="83.6" height="11.31" fill="#ffff60"/>
<rect x="2089.8" y="664.25" width="4.5" height="11.31" fill="#ffff50" opacity="0.28"/>
<rect x="2094.3" y="664.25" width="83.6" height="11.31" fill="#ffff50"/>
<rect x="2089.8" y="653.94" width="4.5" height="11.31" fill="#ffff40" opacity="0.28"/>
<rect x="2094.3" y="653.94" width="83.6" height="11.31" fill="#ffff40"/>
<rect x="2089.8" y="643.62" width="4.5" height="11.31" fill="#ffff30" opacity="0.28"/>
<rect x="2094.3" y="643.62" width="83.6" height="11.31" fill="#ffff30"/>
<rect x="2089.8" y="633.31" width="4.5" height="11.31" fill="#ffff20" opacity="0.28"/>
<rect x="2094.3" y="633.31" width="83.6" height="11.31" fill="#ffff20"/>
<rect x="2089.8" y="623.00" width="4.5" height="11.31" fill="#ffff10" opacity="0.28"/>
<rect x="2094.3" y="623.00" width="83.6" height="11.31" fill="#ffff10"/>
<rect x="2089.8" y="612.69" width="4.5" height="11.31" fill="#ffff00" opacity="0.28"/>
<rect x="2094.3" y="612.69" width="83.6" height="11.31" fill="#ffff00"/>
<rect x="2089.8" y="602.38" width="4.5" height="11.31" fill="#fff400" opacity="0.28"/>
<rect x="2094.3" y="602.38" width="83.6" height="11.31" fill="#fff400"/>
<rect x="2089.8" y="592.06" width="4.5" height="11.31" fill="#ffea00" opacity="0.28"/>
<rect x="2094.3" y="592.06" width="83.6" height="11.31" fill="#ffea00"/>
<rect x="2089.8" y="581.75" width="4.5" height="11.31" fill="#ffdf00" opacity="0.28"/>
<rect x="2094.3" y="581.75" width="83.6" height="11.31" fill="#ffdf00"/>
<rect x="2089.8" y="571.44" width="4.5" height="11.31" fill="#ffd400" opacity="0.28"/>
<rect x="2094.3" y="571.44" width="83.6" height="11.31" fill="#ffd400"/>
<rect x="2089.8" y="561.12" width="4.5" height="11.31" fill="#ffca00" opacity="0.28"/>
<rect x="2094.3" y="561.12" width="83.6" height="11.31" fill="#ffca00"/>
<rect x="2089.8" y="550.81" width="4.5" height="11.31" fill="#ffbf00" opacity="0.28"/>
<rect x="2094.3" y="550.81" width="83.6" height="11.31" fill="#ffbf00"/>
<rect x="2089.8" y="540.50" width="4.5" height="11.31" fill="#ffb500" opacity="0.28"/>
<rect x="2094.3" y="540.50" width="83.6" height="11.31" fill="#ffb500"/>
<rect x="2089.8" y="530.19" width="4.5" height="11.31" fill="#ffaa00" opacity="0.28"/>
<rect x="2094.3" y="530.19" width="83.6" height="11.31" fill="#ffaa00"/>
<rect x="2089.8" y="519.88" width="4.5" height="11.31" fill="#ff9f00" opacity="0.28"/>
<rect x="2094.3" y="519.88" width="83.6" height="11.31" fill="#ff9f00"/>
<rect x="2089.8" y="509.56" width="4.5" height="11.31" fill="#ff9500" opacity="0.28"/>
<rect x="2094.3" y="509.56" width="83.6" height="11.31" fill="#ff9500"/>
<rect x="2089.8" y="499.25" width="4.5" height="11.31" fill="#ff8a00" opacity="0.28"/>
<rect x="2094.3" y="499.25" width="83.6" height="11.31" fill="#ff8a00"/>
<rect x="2089.8" y="488.94" width="4.5" height="11.31" fill="#ff8000" opacity="0.28"/>
<rect x="2094.3" y="488.94" width="83.6" height="11.31" fill="#ff8000"/>
<rect x="2089.8" y="478.62" width="4.5" height="11.31" fill="#ff7500" opacity="0.28"/>
<rect x="2094.3" y="478.62" width="83.6" height="11.31" fill="#ff7500"/>
<rect x="2089.8" y="468.31" width="4.5" height="11.31" fill="#ff6a00" opacity="0.28"/>
<rect x="2094.3" y="468.31" width="83.6" height="11.31" fill="#ff6a00"/>
<rect x="2089.8" y="458.00" width="4.5" height="11.31" fill="#ff6000" opacity="0.28"/>
<rect x="2094.3" y="458.00" width="83.6" height="11.31" fill="#ff6000"/>
<rect x="2089.8" y="447.69" width="4.5" height="11.31" fill="#ff5500" opacity="0.28"/>
<rect x="2094.3" y="447.69" width="83.6" height="11.31" fill="#ff5500"/>
<rect x="2089.8" y="437.38" width="4.5" height="11.31" fill="#ff4a00" opacity="0.28"/>
<rect x="2094.3" y="437.38" width="83.6" height="11.31" fill="#ff4a00"/>
<rect x="2089.8" y="427.06" width="4.5" height="11.31" fill="#ff4000" opacity="0.28"/>
<rect x="2094.3" y="427.06" width="83.6" height="11.31" fill="#ff4000"/>
<rect x="2089.8" y="416.75" width="4.5" height="11.31" fill="#ff3500" opacity="0.28"/>
<rect x="2094.3" y="416.75" width="83.6" height="11.31" fill="#ff3500"/>
<rect x="2089.8" y="406.44" width="4.5" height="11.31" fill="#ff2a00" opacity="0.28"/>
<rect x="2094.3" y="406.44" width="83.6" height="11.31" fill="#ff2a00"/>
<rect x="2089.8" y="396.12" width="4.5" height="11.31" fill="#ff2000" opacity="0.28"/>
<rect x="2094.3" y="396.12" width="83.6" height="11.31" fill="#ff2000"/>
<rect x="2089.8" y="385.81" width="4.5" height="11.31" fill="#ff1500" opacity="0.28"/>
<rect x="2094.3" y="385.81" width="83.6" height="11.31" fill="#ff1500"/>
<rect x="2089.8" y="375.50" width="4.5" height="11.31" fill="#ff0b00" opacity="0.28"/>
<rect x="2094.3" y="375.50" width="83.6" height="11.31" fill="#ff0b00"/>
<rect x="2089.8" y="365.19" width="4.5" height="11.31" fill="#ff0000" opacity="0.28"/>
<rect x="2094.3" y="365.19" width="83.6" height="11.31" fill="#ff0000"/>
<rect x="2089.8" y="354.88" width="4.5" height="11.31" fill="#f40000" opacity="0.28"/>
<rect x="2094.3" y="354.88" width="83.6" height="11.31" fill="#f40000"/>
<rect x="2089.8" y="344.56" width="4.5" height="11.31" fill="#ea0000" opacity="0.28"/>
<rect x="2094.3" y="344.56" width="83.6" height="11.31" fill="#ea0000"/>
<rect x="2089.8" y="334.25" width="4.5" height="11.31" fill="#df0000" opacity="0.28"/>
<rect x="2094.3" y="334.25" width="83.6" height="11.31" fill="#df0000"/>
<rect x="2089.8" y="323.94" width="4.5" height="11.31" fill="#d40000" opacity="0.28"/>
<rect x="2094.3" y="323.94" width="83.6" height="11.31" fill="#d40000"/>
<rect x="2089.8" y="313.62" width="4.5" height="11.31" fill="#ca0000" opacity="0.28"/>
<rect x="2094.3" y="313.62" width="83.6" height="11.31" fill="#ca0000"/>
<rect x="2089.8" y="303.31" width="4.5" height="11.31" fill="#bf0000" opacity="0.28"/>
<rect x="2094.3" y="303.31" width="83.6" height="11.31" fill="#bf0000"/>
<rect x="2089.8" y="293.00" width="4.5" height="11.31" fill="#b50000" opacity="0.28"/>
<rect x="2094.3" y="293.00" width="83.6" height="11.31" fill="#b50000"/>
<rect x="2089.8" y="282.69" width="4.5" height="11.31" fill="#aa0000" opacity="0.28"/>
<rect x="2094.3" y="282.69" width="83.6" height="11.31" fill="#aa0000"/>
<rect x="2089.8" y="272.38" width="4.5" height="11.31" fill="#9f0000" opacity="0.28"/>
<rect x="2094.3" y="272.38" width="83.6" height="11.31" fill="#9f0000"/>
<rect x="2089.8" y="262.06" width="4.5" height="11.31" fill="#950000" opacity="0.28"/>
<rect x="2094.3" y="262.06" width="83.6" height="11.31" fill="#950000"/>
<rect x="2089.8" y="251.75" width="4.5" height="11.31" fill="#8a0000" opacity="0.28"/>
<rect x="2094.3" y="251.75" width="83.6" height="11.31" fill="#8a0000"/>
<rect x="2089.8" y="241.44" width="4.5" height="11.31" fill="#800000" opacity="0.28"/>
<rect x="2094.3" y="241.44" width="83.6" height="11.31" fill="#800000"/>
<rect x="2089.8" y="231.12" width="4.5" height="11.31" fill="#750000" opacity="0.28"/>
<rect x="2094.3" y="231.12" width="83.6" height="11.31" fill="#750000"/>
<rect x="2089.8" y="220.81" width="4.5" height="11.31" fill="#6a0000" opacity="0.28"/>
<rect x="2094.3" y="220.81" width="83.6" height="11.31" fill="#6a0000"/>
<rect x="2089.8" y="210.50" width="4.5" height="11.31" fill="#600000" opacity="0.28"/>
<rect x="2094.3" y="210.50" width="83.6" height="11.31" fill="#600000"/>
<rect x="2089.8" y="200.19" width="4.5" height="11.31" fill="#550000" opacity="0.28"/>
<rect x="2094.3" y="200.19" width="83.6" height="11.31" fill="#550000"/>
<rect x="2089.8" y="189.88" width="4.5" height="11.31" fill="#4a0000" opacity="0.28"/>
<rect x="2094.3" y="189.88" width="83.6" height="11.31" fill="#4a0000"/>
<rect x="2089.8" y="179.56" width="4.5" height="11.31" fill="#400000" opacity="0.28"/>
<rect x="2094.3" y="179.56" width="83.6" height="11.31" fill="#400000"/>
<rect x="2089.8" y="169.25" width="4.5" height="11.31" fill="#350000" opacity="0.28"/>
<rect x="2094.3" y="169.25" width="83.6" height="11.31" fill="#350000"/>
<rect x="2089.8" y="158.94" width="4.5" height="11.31" fill="#2a0000" opacity="0.28"/>
<rect x="2094.3" y="158.94" width="83.6" height="11.31" fill="#2a0000"/>
<rect x="2089.8" y="148.62" width="4.5" height="11.31" fill="#200000" opacity="0.28"/>
<rect x="2094.3" y="148.62" width="83.6" height="11.31" fill="#200000"/>
<rect x="2089.8" y="138.31" width="4.5" height="11.31" fill="#150000" opacity="0.28"/>
<rect x="2094.3" y="138.31" width="83.6" height="11.31" fill="#150000"/>
<rect x="2089.8" y="128.00" width="4.5" height="11.31" fill="#0b0000" opacity="0.28"/>
<rect x="2094.3" y="128.00" width="83.6" height="11.31" fill="#0b0000"/>
</g>
<text class="cb" x="2201.1" y="150.1">100</text>
<text class="cb" x="2201.1" y="295.6">50</text>
<text class="cb" x="2201.1" y="441.1">0</text>
<text class="cb" x="2201.1" y="586.6">-50</text>
<text class="cb" x="2201.1" y="732.1">-100</text>
<path d="M2177.9,273.5 h-6 M2177.9,419.0 h-6 M2177.9,564.5 h-6 M2177.9,710.0 h-6" stroke="#262626" stroke-width="2.6" fill="none"/>
<rect x="2094.3" y="128.0" width="83.6" height="660.0" fill="none" stroke="#262626" stroke-width="3.1"/>
</g>
<g id="panel-c">
<defs>
<clipPath id="clip_c"><rect x="257.3" y="1094.5" width="557.7" height="656.8"/></clipPath>
<g id="fill_c" filter="url(#soft)">
<rect x="249.3" y="1086.5" width="573.7" height="672.8" fill="#ff8a00"/>
<path fill="#ff4000" d="M-156.2,1081.4L-156.0,1352.7L-155.1,1370.9L-153.8,1384.2L-152.6,1388.9L-150.6,1394.2L-148.4,1399.2L-146.0,1402.9L-142.5,1406.9L-137.9,1410.7L-133.3,1412.7L-127.7,1413.9L-81.3,1416.2L33.2,1424.2L89.6,1427.2L94.2,1428.4L97.2,1429.7L102.7,1433.9L107.5,1439.7L111.2,1447.4L113.4,1453.9L114.5,1459.4L115.8,1477.4L116.4,1495.2L116.5,1761.4L395.3,1761.4L395.3,1495.2L394.6,1477.4L393.3,1459.4L392.2,1453.9L390.0,1447.4L386.3,1439.7L381.6,1433.9L376.1,1429.7L373.1,1428.4L368.5,1427.2L312.1,1424.2L197.6,1416.2L151.1,1413.9L145.6,1412.7L141.0,1410.7L136.4,1406.9L132.8,1402.9L130.5,1399.2L128.2,1394.2L126.3,1388.9L125.0,1384.2L123.8,1370.9L122.9,1352.7L122.6,1081.4ZM401.5,1081.4L401.7,1352.7L402.6,1370.9L403.9,1384.2L405.1,1388.9L407.1,1394.2L409.3,1399.2L411.7,1402.9L415.2,1406.9L419.8,1410.7L424.4,1412.7L430.0,1413.9L476.4,1416.2L590.9,1424.2L647.3,1427.2L651.9,1428.4L654.9,1429.7L660.4,1433.9L665.2,1439.7L668.9,1447.4L671.1,1453.9L672.2,1459.4L673.5,1477.4L674.1,1495.2L674.2,1761.4L953.0,1761.4L953.0,1495.2L952.3,1477.4L951.0,1459.4L949.9,1453.9L947.7,1447.4L944.0,1439.7L939.3,1433.9L933.8,1429.7L930.8,1428.4L926.2,1427.2L869.8,1424.2L755.3,1416.2L708.8,1413.9L703.3,1412.7L698.7,1410.7L694.1,1406.9L690.5,1402.9L688.2,1399.2L685.9,1394.2L684.0,1388.9L682.7,1384.2L681.5,1370.9L680.6,1352.7L680.3,1081.4Z"/>
<path fill="#f40000" d="M533.3,1165.9L522.4,1167.2L511.0,1169.7L500.6,1173.2L491.2,1177.4L481.9,1182.9L473.3,1189.4L465.4,1196.9L458.3,1205.2L451.5,1214.9L445.1,1225.9L439.3,1238.2L434.2,1250.9L429.3,1266.7L424.7,1285.2L421.5,1301.2L420.6,1311.4L421.3,1319.9L423.4,1329.7L426.6,1339.9L430.4,1348.7L434.8,1356.4L440.1,1363.4L446.2,1369.9L453.1,1375.7L460.2,1380.4L467.3,1384.2L475.6,1387.4L484.8,1390.2L496.4,1392.7L508.1,1394.4L520.8,1395.7L534.1,1396.4L560.9,1396.4L573.5,1395.7L585.1,1394.4L595.4,1392.7L604.3,1390.4L612.1,1387.7L618.9,1384.4L626.2,1379.9L632.6,1374.9L638.6,1368.9L644.0,1362.2L648.7,1354.7L652.7,1346.4L656.6,1335.9L659.5,1325.4L660.9,1316.4L661.1,1308.4L659.7,1297.4L655.7,1279.2L651.3,1262.7L646.7,1248.7L641.8,1236.4L635.9,1224.4L629.5,1213.7L622.9,1204.4L615.9,1196.4L608.2,1189.2L599.8,1182.9L590.5,1177.4L581.2,1173.2L570.8,1169.7L559.4,1167.2L548.5,1165.9ZM236.8,1446.4L224.1,1447.2L212.5,1448.4L202.2,1450.2L193.1,1452.4L185.3,1455.2L177.8,1458.7L170.8,1462.9L164.6,1467.7L158.5,1473.7L153.1,1480.4L148.3,1487.9L144.3,1496.2L140.4,1506.4L137.4,1516.9L135.9,1525.9L135.7,1534.2L137.0,1544.9L140.9,1563.2L145.3,1579.7L150.0,1593.9L155.0,1606.4L160.9,1618.4L167.3,1629.2L173.9,1638.4L180.9,1646.4L188.6,1653.7L197.0,1659.9L206.3,1665.4L215.6,1669.7L226.0,1673.2L237.4,1675.7L248.3,1676.9L263.5,1676.9L274.4,1675.7L285.8,1673.2L296.2,1669.7L305.6,1665.4L314.8,1659.9L323.5,1653.4L331.4,1645.9L338.5,1637.7L345.2,1628.2L351.5,1617.2L357.4,1604.9L362.5,1592.2L367.4,1576.7L372.0,1558.2L375.3,1541.9L376.2,1531.7L375.6,1523.4L373.6,1513.7L370.3,1503.2L366.5,1494.2L362.2,1486.7L357.0,1479.7L350.9,1473.2L344.2,1467.4L337.2,1462.7L329.8,1458.7L321.8,1455.4L312.6,1452.7L302.5,1450.4L291.4,1448.7L276.8,1447.2L263.6,1446.4ZM794.5,1446.4L781.8,1447.2L770.2,1448.4L759.9,1450.2L750.8,1452.4L743.0,1455.2L735.5,1458.7L728.5,1462.9L722.3,1467.7L716.2,1473.7L710.8,1480.4L706.0,1487.9L702.0,1496.2L698.1,1506.4L695.1,1516.9L693.6,1525.9L693.4,1534.2L694.7,1544.9L698.6,1563.2L703.0,1579.7L707.7,1593.9L712.7,1606.4L718.6,1618.4L725.0,1629.2L731.6,1638.4L738.6,1646.4L746.3,1653.7L754.7,1659.9L764.0,1665.4L773.3,1669.7L783.7,1673.2L795.1,1675.7L806.0,1676.9L821.2,1676.9L832.1,1675.7L843.5,1673.2L853.9,1669.7L863.3,1665.4L872.5,1659.9L881.2,1653.4L889.1,1645.9L896.2,1637.7L902.9,1628.2L909.2,1617.2L915.1,1604.9L920.2,1592.2L925.1,1576.7L929.7,1558.2L933.0,1541.9L933.9,1531.7L933.3,1523.4L931.3,1513.7L928.0,1503.2L924.2,1494.2L919.9,1486.7L914.7,1479.7L908.6,1473.2L901.9,1467.4L894.9,1462.7L887.5,1458.7L879.5,1455.4L870.3,1452.7L860.2,1450.4L849.1,1448.7L834.5,1447.2L821.3,1446.4Z"/>
<path fill="#9f0000" d="M535.9,1220.9L528.4,1221.7L519.5,1223.4L511.9,1225.7L504.4,1228.7L496.9,1232.4L489.9,1236.7L483.1,1241.7L476.8,1247.2L470.5,1253.7L464.7,1260.7L459.1,1268.7L453.7,1277.7L448.0,1288.4L443.6,1298.4L441.4,1305.2L440.7,1311.2L441.2,1316.2L442.8,1321.7L445.7,1327.9L449.6,1334.2L453.8,1339.7L458.7,1344.9L464.1,1349.7L470.4,1354.2L476.7,1357.9L483.9,1361.4L491.5,1364.4L499.4,1366.9L507.4,1368.9L516.9,1370.7L534.8,1372.4L549.5,1372.4L567.2,1370.7L576.4,1368.9L584.2,1366.9L591.8,1364.4L599.1,1361.4L605.5,1358.2L611.6,1354.4L617.7,1349.9L623.2,1344.9L628.2,1339.4L632.7,1333.4L636.4,1327.2L639.2,1321.2L640.7,1315.7L641.1,1310.7L640.3,1304.9L638.0,1297.9L633.4,1287.7L627.7,1276.9L622.3,1268.2L616.7,1260.2L610.9,1253.2L604.7,1246.9L598.4,1241.4L591.5,1236.4L584.5,1232.2L576.9,1228.4L569.1,1225.4L561.2,1223.2L553.3,1221.7L545.8,1220.9ZM247.4,1470.4L229.7,1472.2L220.5,1473.9L212.8,1475.9L205.1,1478.4L197.8,1481.4L191.4,1484.7L185.2,1488.4L179.2,1492.9L173.6,1497.9L168.6,1503.4L164.3,1509.2L160.4,1515.7L157.6,1521.7L156.1,1527.2L155.7,1532.2L156.5,1537.9L158.8,1544.9L163.4,1555.2L169.1,1565.9L174.5,1574.7L180.1,1582.7L185.9,1589.7L192.1,1595.9L198.4,1601.4L205.3,1606.4L212.3,1610.7L219.9,1614.4L227.7,1617.4L235.6,1619.7L243.4,1621.2L251.0,1621.9L260.9,1621.9L268.4,1621.2L277.3,1619.4L284.9,1617.2L292.4,1614.2L299.9,1610.4L306.9,1606.2L313.7,1601.2L320.0,1595.7L326.3,1589.2L332.1,1582.2L337.7,1574.2L343.1,1565.2L348.8,1554.4L353.2,1544.4L355.4,1537.7L356.1,1531.7L355.6,1526.7L354.0,1521.2L351.1,1514.9L347.2,1508.7L342.8,1502.9L337.9,1497.7L332.4,1492.9L326.5,1488.7L320.2,1484.9L313.0,1481.4L305.4,1478.4L297.5,1475.9L289.5,1473.9L280.1,1472.2L262.1,1470.4ZM805.1,1470.4L787.4,1472.2L778.2,1473.9L770.5,1475.9L762.8,1478.4L755.5,1481.4L749.1,1484.7L742.9,1488.4L736.9,1492.9L731.3,1497.9L726.3,1503.4L722.0,1509.2L718.1,1515.7L715.3,1521.7L713.8,1527.2L713.4,1532.2L714.2,1537.9L716.5,1544.9L721.1,1555.2L726.8,1565.9L732.2,1574.7L737.8,1582.7L743.6,1589.7L749.8,1595.9L756.1,1601.4L763.0,1606.4L770.0,1610.7L777.6,1614.4L785.4,1617.4L793.3,1619.7L801.1,1621.2L808.7,1621.9L818.6,1621.9L826.1,1621.2L835.0,1619.4L842.6,1617.2L850.1,1614.2L857.6,1610.4L864.6,1606.2L871.4,1601.2L877.7,1595.7L884.0,1589.2L889.8,1582.2L895.4,1574.2L900.8,1565.2L906.5,1554.4L910.9,1544.4L913.1,1537.7L913.8,1531.7L913.3,1526.7L911.7,1521.2L908.8,1514.9L904.9,1508.7L900.5,1502.9L895.6,1497.7L890.1,1492.9L884.2,1488.7L877.9,1484.9L870.7,1481.4L863.1,1478.4L855.2,1475.9L847.2,1473.9L837.8,1472.2L819.8,1470.4Z"/>
<path fill="#550000" d="M535.4,1258.9L523.5,1260.7L512.7,1263.9L501.9,1268.9L491.7,1275.4L485.9,1279.9L480.4,1284.9L474.8,1290.7L470.2,1296.2L467.0,1300.7L464.8,1304.7L463.7,1308.2L463.3,1311.7L463.8,1314.9L465.0,1318.2L467.1,1321.7L470.1,1325.4L473.8,1329.2L478.3,1332.9L488.5,1339.4L499.0,1344.2L511.1,1347.9L524.6,1350.4L537.8,1351.4L544.3,1351.4L557.5,1350.4L570.9,1347.9L582.9,1344.2L593.3,1339.4L603.4,1332.9L607.9,1329.2L611.7,1325.4L614.7,1321.7L616.8,1318.2L618.0,1314.9L618.5,1311.7L618.1,1308.2L617.0,1304.7L614.8,1300.7L611.6,1296.2L607.0,1290.7L601.4,1284.9L595.8,1279.9L590.1,1275.4L579.9,1268.9L569.1,1263.9L558.3,1260.7L546.4,1258.9ZM252.5,1491.4L239.3,1492.4L225.9,1494.9L213.9,1498.7L203.5,1503.4L193.4,1509.9L188.9,1513.7L185.1,1517.4L182.1,1521.2L180.0,1524.7L178.8,1527.9L178.3,1531.2L178.7,1534.7L179.8,1538.2L182.0,1542.2L185.2,1546.7L189.8,1552.2L195.4,1557.9L201.0,1562.9L206.7,1567.4L216.9,1573.9L227.7,1578.9L238.5,1582.2L250.4,1583.9L261.4,1583.9L273.3,1582.2L284.1,1578.9L294.9,1573.9L305.1,1567.4L310.9,1562.9L316.4,1557.9L322.0,1552.2L326.6,1546.7L329.8,1542.2L332.0,1538.2L333.1,1534.7L333.5,1531.2L333.0,1527.9L331.8,1524.7L329.7,1521.2L326.7,1517.4L323.0,1513.7L318.5,1509.9L308.3,1503.4L297.8,1498.7L285.7,1494.9L272.2,1492.4L259.0,1491.4ZM810.2,1491.4L797.0,1492.4L783.6,1494.9L771.6,1498.7L761.2,1503.4L751.1,1509.9L746.6,1513.7L742.8,1517.4L739.8,1521.2L737.7,1524.7L736.5,1527.9L736.0,1531.2L736.4,1534.7L737.5,1538.2L739.7,1542.2L742.9,1546.7L747.5,1552.2L753.1,1557.9L758.7,1562.9L764.4,1567.4L774.6,1573.9L785.4,1578.9L796.2,1582.2L808.1,1583.9L819.1,1583.9L831.0,1582.2L841.8,1578.9L852.6,1573.9L862.8,1567.4L868.6,1562.9L874.1,1557.9L879.7,1552.2L884.3,1546.7L887.5,1542.2L889.7,1538.2L890.8,1534.7L891.2,1531.2L890.7,1527.9L889.5,1524.7L887.4,1521.2L884.4,1517.4L880.7,1513.7L876.2,1509.9L866.0,1503.4L855.5,1498.7L843.4,1494.9L829.9,1492.4L816.7,1491.4Z"/>
<path fill="#0b0000" d="M537.5,1288.7L529.8,1289.4L522.4,1290.9L515.0,1293.2L507.9,1296.2L501.7,1299.7L496.9,1303.4L493.8,1307.2L492.6,1310.7L493.2,1314.2L495.3,1317.4L499.0,1320.7L504.5,1323.9L511.0,1326.7L518.3,1328.9L525.5,1330.4L534.1,1331.4L547.7,1331.4L556.2,1330.4L563.5,1328.9L570.8,1326.7L577.3,1323.9L582.7,1320.7L586.5,1317.4L588.6,1314.2L589.2,1310.7L588.0,1307.2L584.9,1303.4L580.1,1299.7L573.8,1296.2L566.7,1293.2L559.4,1290.9L552.0,1289.4L544.2,1288.7ZM249.1,1511.4L240.6,1512.4L233.3,1513.9L226.0,1516.2L219.5,1518.9L214.1,1522.2L210.3,1525.4L208.2,1528.7L207.6,1532.2L208.8,1535.7L211.9,1539.4L216.7,1543.2L223.0,1546.7L230.0,1549.7L237.4,1551.9L244.8,1553.4L252.6,1554.2L259.3,1554.2L267.0,1553.4L274.4,1551.9L281.8,1549.7L288.9,1546.7L295.1,1543.2L299.9,1539.4L303.0,1535.7L304.2,1532.2L303.6,1528.7L301.5,1525.4L297.8,1522.2L292.3,1518.9L285.8,1516.2L278.5,1513.9L271.3,1512.4L262.7,1511.4ZM806.8,1511.4L798.3,1512.4L791.0,1513.9L783.7,1516.2L777.2,1518.9L771.8,1522.2L768.0,1525.4L765.9,1528.7L765.3,1532.2L766.5,1535.7L769.6,1539.4L774.4,1543.2L780.7,1546.7L787.7,1549.7L795.1,1551.9L802.5,1553.4L810.3,1554.2L817.0,1554.2L824.7,1553.4L832.1,1551.9L839.5,1549.7L846.6,1546.7L852.8,1543.2L857.6,1539.4L860.7,1535.7L861.9,1532.2L861.3,1528.7L859.2,1525.4L855.5,1522.2L850.0,1518.9L843.5,1516.2L836.2,1513.9L829.0,1512.4L820.4,1511.4Z"/>
<path fill="#ffdf00" d="M254.4,1165.9L243.5,1167.2L232.2,1169.7L221.7,1173.2L212.4,1177.4L203.1,1182.9L194.5,1189.4L186.5,1196.9L179.4,1205.2L172.6,1214.9L166.3,1225.9L160.4,1238.2L155.4,1250.9L150.4,1266.7L145.8,1285.2L142.6,1301.2L141.7,1311.4L142.4,1319.9L144.5,1329.7L147.7,1339.9L151.5,1348.7L156.0,1356.4L161.2,1363.4L167.4,1369.9L174.2,1375.7L181.3,1380.4L188.5,1384.2L196.7,1387.4L206.0,1390.2L217.6,1392.7L229.3,1394.4L241.9,1395.7L255.2,1396.4L282.0,1396.4L294.6,1395.7L306.2,1394.4L316.5,1392.7L325.5,1390.4L333.2,1387.7L340.0,1384.4L347.3,1379.9L353.7,1374.9L359.8,1368.9L365.2,1362.2L369.8,1354.7L373.8,1346.4L377.8,1335.9L380.6,1325.4L382.1,1316.4L382.3,1308.4L380.8,1297.4L376.9,1279.2L372.5,1262.7L367.9,1248.7L362.9,1236.4L357.0,1224.4L350.7,1213.7L344.1,1204.4L337.1,1196.4L329.3,1189.2L321.0,1182.9L311.7,1177.4L302.4,1173.2L291.9,1169.7L280.5,1167.2L269.6,1165.9ZM812.1,1165.9L801.2,1167.2L789.9,1169.7L779.4,1173.2L770.1,1177.4L760.8,1182.9L752.2,1189.4L744.2,1196.9L737.1,1205.2L730.3,1214.9L724.0,1225.9L718.1,1238.2L713.1,1250.9L708.1,1266.7L703.5,1285.2L700.3,1301.2L699.4,1311.4L700.1,1319.9L702.2,1329.7L705.4,1339.9L709.2,1348.7L713.7,1356.4L718.9,1363.4L725.1,1369.9L731.9,1375.7L739.0,1380.4L746.2,1384.2L754.4,1387.4L763.7,1390.2L775.3,1392.7L787.0,1394.4L799.6,1395.7L812.9,1396.4L839.7,1396.4L852.3,1395.7L863.9,1394.4L874.2,1392.7L883.2,1390.4L890.9,1387.7L897.7,1384.4L905.0,1379.9L911.4,1374.9L917.5,1368.9L922.9,1362.2L927.5,1354.7L931.5,1346.4L935.5,1335.9L938.3,1325.4L939.8,1316.4L940.0,1308.4L938.5,1297.4L934.6,1279.2L930.2,1262.7L925.6,1248.7L920.6,1236.4L914.7,1224.4L908.4,1213.7L901.8,1204.4L894.8,1196.4L887.0,1189.2L878.7,1182.9L869.4,1177.4L860.1,1173.2L849.6,1169.7L838.2,1167.2L827.3,1165.9ZM515.6,1446.4L503.0,1447.2L491.4,1448.4L481.0,1450.2L472.0,1452.4L464.1,1455.2L456.7,1458.7L449.6,1462.9L443.5,1467.7L437.4,1473.7L431.9,1480.4L427.2,1487.9L423.1,1496.2L419.2,1506.4L416.3,1516.9L414.8,1525.9L414.5,1534.2L415.9,1544.9L419.8,1563.2L424.2,1579.7L428.8,1593.9L433.9,1606.4L439.8,1618.4L446.1,1629.2L452.7,1638.4L459.7,1646.4L467.5,1653.7L475.8,1659.9L485.1,1665.4L494.4,1669.7L504.9,1673.2L516.3,1675.7L527.2,1676.9L542.4,1676.9L553.3,1675.7L564.6,1673.2L575.1,1669.7L584.4,1665.4L593.7,1659.9L602.3,1653.4L610.3,1645.9L617.4,1637.7L624.0,1628.2L630.4,1617.2L636.3,1604.9L641.3,1592.2L646.2,1576.7L650.9,1558.2L654.1,1541.9L655.0,1531.7L654.4,1523.4L652.4,1513.7L649.2,1503.2L645.3,1494.2L641.1,1486.7L635.9,1479.7L629.8,1473.2L623.0,1467.4L616.1,1462.7L608.6,1458.7L600.6,1455.4L591.5,1452.7L581.3,1450.4L570.3,1448.7L555.7,1447.2L542.4,1446.4Z"/>
<path fill="#ffff40" d="M257.1,1220.9L249.6,1221.7L240.7,1223.4L233.1,1225.7L225.5,1228.7L218.0,1232.4L211.1,1236.7L204.2,1241.7L197.9,1247.2L191.6,1253.7L185.9,1260.7L180.3,1268.7L174.8,1277.7L169.2,1288.4L164.7,1298.4L162.6,1305.2L161.9,1311.2L162.3,1316.2L164.0,1321.7L166.9,1327.9L170.7,1334.2L174.9,1339.7L179.8,1344.9L185.2,1349.7L191.5,1354.2L197.8,1357.9L205.1,1361.4L212.7,1364.4L220.6,1366.9L228.6,1368.9L238.0,1370.7L256.0,1372.4L270.7,1372.4L288.4,1370.7L297.5,1368.9L305.3,1366.9L312.9,1364.4L320.2,1361.4L326.7,1358.2L332.8,1354.4L338.8,1349.9L344.4,1344.9L349.4,1339.4L353.8,1333.4L357.6,1327.2L360.3,1321.2L361.8,1315.7L362.2,1310.7L361.4,1304.9L359.2,1297.9L354.5,1287.7L348.8,1276.9L343.5,1268.2L337.8,1260.2L332.0,1253.2L325.9,1246.9L319.5,1241.4L312.6,1236.4L305.6,1232.2L298.0,1228.4L290.3,1225.4L282.4,1223.2L274.5,1221.7L267.0,1220.9ZM814.8,1220.9L807.3,1221.7L798.4,1223.4L790.8,1225.7L783.2,1228.7L775.7,1232.4L768.8,1236.7L761.9,1241.7L755.6,1247.2L749.3,1253.7L743.6,1260.7L738.0,1268.7L732.5,1277.7L726.9,1288.4L722.4,1298.4L720.3,1305.2L719.6,1311.2L720.0,1316.2L721.7,1321.7L724.6,1327.9L728.4,1334.2L732.6,1339.7L737.5,1344.9L742.9,1349.7L749.2,1354.2L755.5,1357.9L762.8,1361.4L770.4,1364.4L778.3,1366.9L786.3,1368.9L795.7,1370.7L813.7,1372.4L828.4,1372.4L846.1,1370.7L855.2,1368.9L863.0,1366.9L870.6,1364.4L877.9,1361.4L884.4,1358.2L890.5,1354.4L896.5,1349.9L902.1,1344.9L907.1,1339.4L911.5,1333.4L915.3,1327.2L918.0,1321.2L919.5,1315.7L919.9,1310.7L919.1,1304.9L916.9,1297.9L912.2,1287.7L906.5,1276.9L901.2,1268.2L895.5,1260.2L889.7,1253.2L883.6,1246.9L877.2,1241.4L870.3,1236.4L863.3,1232.2L855.7,1228.4L848.0,1225.4L840.1,1223.2L832.2,1221.7L824.7,1220.9ZM526.3,1470.4L508.6,1472.2L499.4,1473.9L491.6,1475.9L484.0,1478.4L476.7,1481.4L470.2,1484.7L464.1,1488.4L458.0,1492.9L452.5,1497.9L447.4,1503.4L443.1,1509.2L439.2,1515.7L436.5,1521.7L435.0,1527.2L434.6,1532.2L435.4,1537.9L437.6,1544.9L442.3,1555.2L447.9,1565.9L453.3,1574.7L459.0,1582.7L464.8,1589.7L470.9,1595.9L477.3,1601.4L484.2,1606.4L491.2,1610.7L498.8,1614.4L506.5,1617.4L514.4,1619.7L522.3,1621.2L529.8,1621.9L539.7,1621.9L547.2,1621.2L556.1,1619.4L563.7,1617.2L571.3,1614.2L578.8,1610.4L585.7,1606.2L592.5,1601.2L598.9,1595.7L605.2,1589.2L610.9,1582.2L616.5,1574.2L622.0,1565.2L627.6,1554.4L632.1,1544.4L634.2,1537.7L634.9,1531.7L634.5,1526.7L632.8,1521.2L629.9,1514.9L626.1,1508.7L621.7,1502.9L616.7,1497.7L611.3,1492.9L605.4,1488.7L599.0,1484.9L591.8,1481.4L584.2,1478.4L576.3,1475.9L568.3,1473.9L558.9,1472.2L541.0,1470.4Z"/>
<path fill="#ffffbf" d="M256.6,1258.9L244.7,1260.7L233.9,1263.9L223.0,1268.9L212.8,1275.4L207.1,1279.9L201.5,1284.9L196.0,1290.7L191.3,1296.2L188.1,1300.7L186.0,1304.7L184.8,1308.2L184.5,1311.7L184.9,1314.9L186.2,1318.2L188.2,1321.7L191.2,1325.4L195.0,1329.2L199.5,1332.9L209.7,1339.4L220.1,1344.2L232.3,1347.9L245.8,1350.4L259.0,1351.4L265.5,1351.4L278.7,1350.4L292.0,1347.9L304.0,1344.2L314.4,1339.4L324.6,1332.9L329.1,1329.2L332.8,1325.4L335.8,1321.7L337.9,1318.2L339.1,1314.9L339.6,1311.7L339.3,1308.2L338.1,1304.7L336.0,1300.7L332.8,1296.2L328.1,1290.7L322.5,1284.9L317.0,1279.9L311.3,1275.4L301.1,1268.9L290.2,1263.9L279.4,1260.7L267.5,1258.9ZM814.3,1258.9L802.4,1260.7L791.6,1263.9L780.7,1268.9L770.5,1275.4L764.8,1279.9L759.2,1284.9L753.7,1290.7L749.0,1296.2L745.8,1300.7L743.7,1304.7L742.5,1308.2L742.2,1311.7L742.6,1314.9L743.9,1318.2L745.9,1321.7L748.9,1325.4L752.7,1329.2L757.2,1332.9L767.4,1339.4L777.8,1344.2L790.0,1347.9L803.5,1350.4L816.7,1351.4L823.2,1351.4L836.4,1350.4L849.7,1347.9L861.7,1344.2L872.1,1339.4L882.3,1332.9L886.8,1329.2L890.5,1325.4L893.5,1321.7L895.6,1318.2L896.8,1314.9L897.3,1311.7L897.0,1308.2L895.8,1304.7L893.7,1300.7L890.5,1296.2L885.8,1290.7L880.2,1284.9L874.7,1279.9L869.0,1275.4L858.8,1268.9L847.9,1263.9L837.1,1260.7L825.2,1258.9ZM531.4,1491.4L518.2,1492.4L504.8,1494.9L492.8,1498.7L482.4,1503.4L472.2,1509.9L467.7,1513.7L464.0,1517.4L461.0,1521.2L458.9,1524.7L457.6,1527.9L457.2,1531.2L457.5,1534.7L458.7,1538.2L460.8,1542.2L464.0,1546.7L468.7,1552.2L474.3,1557.9L479.8,1562.9L485.5,1567.4L495.7,1573.9L506.6,1578.9L517.4,1582.2L529.3,1583.9L540.2,1583.9L552.1,1582.2L562.9,1578.9L573.8,1573.9L584.0,1567.4L589.7,1562.9L595.2,1557.9L600.8,1552.2L605.5,1546.7L608.7,1542.2L610.8,1538.2L612.0,1534.7L612.3,1531.2L611.9,1527.9L610.6,1524.7L608.6,1521.2L605.5,1517.4L601.8,1513.7L597.3,1509.9L587.1,1503.4L576.7,1498.7L564.6,1494.9L551.1,1492.4L537.9,1491.4Z"/>
<path fill="#ffffff" d="M258.7,1288.7L251.0,1289.4L243.5,1290.9L236.2,1293.2L229.1,1296.2L222.9,1299.7L218.0,1303.4L214.9,1307.2L213.8,1310.7L214.3,1314.2L216.5,1317.4L220.2,1320.7L225.7,1323.9L232.1,1326.7L239.5,1328.9L246.7,1330.4L255.2,1331.4L268.8,1331.4L277.4,1330.4L284.6,1328.9L292.0,1326.7L298.4,1323.9L303.9,1320.7L307.6,1317.4L309.7,1314.2L310.3,1310.7L309.1,1307.2L306.1,1303.4L301.2,1299.7L295.0,1296.2L287.9,1293.2L280.6,1290.9L273.1,1289.4L265.4,1288.7ZM816.4,1288.7L808.7,1289.4L801.2,1290.9L793.9,1293.2L786.8,1296.2L780.6,1299.7L775.7,1303.4L772.6,1307.2L771.5,1310.7L772.0,1314.2L774.2,1317.4L777.9,1320.7L783.4,1323.9L789.8,1326.7L797.2,1328.9L804.4,1330.4L812.9,1331.4L826.5,1331.4L835.1,1330.4L842.3,1328.9L849.7,1326.7L856.1,1323.9L861.6,1320.7L865.3,1317.4L867.4,1314.2L868.0,1310.7L866.8,1307.2L863.8,1303.4L858.9,1299.7L852.7,1296.2L845.6,1293.2L838.3,1290.9L830.8,1289.4L823.1,1288.7ZM528.0,1511.4L519.4,1512.4L512.2,1513.9L504.8,1516.2L498.4,1518.9L492.9,1522.2L489.2,1525.4L487.1,1528.7L486.5,1532.2L487.7,1535.7L490.7,1539.4L495.6,1543.2L501.8,1546.7L508.9,1549.7L516.2,1551.9L523.7,1553.4L531.4,1554.2L538.1,1554.2L545.8,1553.4L553.3,1551.9L560.6,1549.7L567.7,1546.7L573.9,1543.2L578.8,1539.4L581.9,1535.7L583.0,1532.2L582.5,1528.7L580.3,1525.4L576.6,1522.2L571.1,1518.9L564.7,1516.2L557.3,1513.9L550.1,1512.4L541.6,1511.4Z"/>
</g>
<clipPath id="clip_c_top"><rect x="255.8" y="1090.0" width="560.7" height="4.5"/></clipPath>
</defs>
<use href="#fill_c" clip-path="url(#clip_c_top)" opacity="0.42"/>
<use href="#fill_c" clip-path="url(#clip_c)"/>
<rect x="257.3" y="1746.8" width="557.7" height="4.5" fill="#fff" opacity="0.25"/>
<path d="M536.1,1751.3 v-6.0 M536.1,1094.5 v6.0 M257.3,1256.5 h6.0 M815.0,1256.5 h-6.0 M257.3,1422.7 h6.0 M815.0,1422.7 h-6.0 M257.3,1587.5 h6.0 M815.0,1587.5 h-6.0" stroke="#262626" stroke-width="2.6" fill="none"/>
<rect x="257.3" y="1094.5" width="557.7" height="656.8" fill="none" stroke="#262626" stroke-width="3.1"/>
<text class="t" x="255.5" y="1842.9" text-anchor="middle">0</text>
<text class="t" x="534.3" y="1842.9" text-anchor="middle">0.5</text>
<text class="t" x="814.0" y="1842.9" text-anchor="middle">1</text>
<text class="t" x="230.6" y="1281.7" text-anchor="end">0.5</text>
<text class="t" x="230.6" y="1447.9" text-anchor="end">0</text>
<text class="t" x="230.6" y="1612.7" text-anchor="end">-0.5</text>
<text class="m r" transform="translate(494.41,1060.28) scale(0.7098,0.8200)">(</text>
<text class="m" transform="translate(519.82,1060.12) scale(0.6938,0.6750)">c</text>
<text class="m r" transform="translate(551.15,1060.28) scale(0.7154,0.8200)">)</text>
<text class="m" transform="translate(440.12,1924.30) scale(0.8180,0.6923)">x</text>
<text class="m" transform="translate(479.76,1924.30) scale(0.7814,0.7246)">k</text>
<text class="m r" transform="translate(519.30,1940.99) scale(1.0109,1.1053)">/</text>
<text class="m r" transform="translate(553.10,1923.60) scale(0.7325,0.7364)">2</text>
<text class="m" transform="translate(589.64,1923.62) scale(0.7135,0.6774)">π</text>
<text class="m" style="stroke-width:2.6px" transform="translate(71.40,1437.02) rotate(-90) scale(0.7792,0.7130)">z</text>
<g shape-rendering="crispEdges">
<rect x="897.2" y="1090.0" width="85.1" height="4.5" fill="#0b0000" opacity="0.4"/>
<rect x="898.7" y="1744.09" width="83.6" height="11.31" fill="#ffffff"/>
<rect x="898.7" y="1733.78" width="83.6" height="11.31" fill="#ffffef"/>
<rect x="898.7" y="1723.47" width="83.6" height="11.31" fill="#ffffdf"/>
<rect x="898.7" y="1713.16" width="83.6" height="11.31" fill="#ffffcf"/>
<rect x="898.7" y="1702.85" width="83.6" height="11.31" fill="#ffffbf"/>
<rect x="898.7" y="1692.53" width="83.6" height="11.31" fill="#ffffaf"/>
<rect x="898.7" y="1682.22" width="83.6" height="11.31" fill="#ffff9f"/>
<rect x="898.7" y="1671.91" width="83.6" height="11.31" fill="#ffff8f"/>
<rect x="898.7" y="1661.60" width="83.6" height="11.31" fill="#ffff80"/>
<rect x="898.7" y="1651.29" width="83.6" height="11.31" fill="#ffff70"/>
<rect x="898.7" y="1640.98" width="83.6" height="11.31" fill="#ffff60"/>
<rect x="898.7" y="1630.67" width="83.6" height="11.31" fill="#ffff50"/>
<rect x="898.7" y="1620.36" width="83.6" height="11.31" fill="#ffff40"/>
<rect x="898.7" y="1610.05" width="83.6" height="11.31" fill="#ffff30"/>
<rect x="898.7" y="1599.74" width="83.6" height="11.31" fill="#ffff20"/>
<rect x="898.7" y="1589.43" width="83.6" height="11.31" fill="#ffff10"/>
<rect x="898.7" y="1579.11" width="83.6" height="11.31" fill="#ffff00"/>
<rect x="898.7" y="1568.80" width="83.6" height="11.31" fill="#fff400"/>
<rect x="898.7" y="1558.49" width="83.6" height="11.31" fill="#ffea00"/>
<rect x="898.7" y="1548.18" width="83.6" height="11.31" fill="#ffdf00"/>
<rect x="898.7" y="1537.87" width="83.6" height="11.31" fill="#ffd400"/>
<rect x="898.7" y="1527.56" width="83.6" height="11.31" fill="#ffca00"/>
<rect x="898.7" y="1517.25" width="83.6" height="11.31" fill="#ffbf00"/>
<rect x="898.7" y="1506.94" width="83.6" height="11.31" fill="#ffb500"/>
<rect x="898.7" y="1496.63" width="83.6" height="11.31" fill="#ffaa00"/>
<rect x="898.7" y="1486.32" width="83.6" height="11.31" fill="#ff9f00"/>
<rect x="898.7" y="1476.00" width="83.6" height="11.31" fill="#ff9500"/>
<rect x="898.7" y="1465.69" width="83.6" height="11.31" fill="#ff8a00"/>
<rect x="898.7" y="1455.38" width="83.6" height="11.31" fill="#ff8000"/>
<rect x="898.7" y="1445.07" width="83.6" height="11.31" fill="#ff7500"/>
<rect x="898.7" y="1434.76" width="83.6" height="11.31" fill="#ff6a00"/>
<rect x="898.7" y="1424.45" width="83.6" height="11.31" fill="#ff6000"/>
<rect x="898.7" y="1414.14" width="83.6" height="11.31" fill="#ff5500"/>
<rect x="898.7" y="1403.83" width="83.6" height="11.31" fill="#ff4a00"/>
<rect x="898.7" y="1393.52" width="83.6" height="11.31" fill="#ff4000"/>
<rect x="898.7" y="1383.21" width="83.6" height="11.31" fill="#ff3500"/>
<rect x="898.7" y="1372.90" width="83.6" height="11.31" fill="#ff2a00"/>
<rect x="898.7" y="1362.58" width="83.6" height="11.31" fill="#ff2000"/>
<rect x="898.7" y="1352.27" width="83.6" height="11.31" fill="#ff1500"/>
<rect x="898.7" y="1341.96" width="83.6" height="11.31" fill="#ff0b00"/>
<rect x="898.7" y="1331.65" width="83.6" height="11.31" fill="#ff0000"/>
<rect x="898.7" y="1321.34" width="83.6" height="11.31" fill="#f40000"/>
<rect x="898.7" y="1311.03" width="83.6" height="11.31" fill="#ea0000"/>
<rect x="898.7" y="1300.72" width="83.6" height="11.31" fill="#df0000"/>
<rect x="898.7" y="1290.41" width="83.6" height="11.31" fill="#d40000"/>
<rect x="898.7" y="1280.10" width="83.6" height="11.31" fill="#ca0000"/>
<rect x="898.7" y="1269.79" width="83.6" height="11.31" fill="#bf0000"/>
<rect x="898.7" y="1259.47" width="83.6" height="11.31" fill="#b50000"/>
<rect x="898.7" y="1249.16" width="83.6" height="11.31" fill="#aa0000"/>
<rect x="898.7" y="1238.85" width="83.6" height="11.31" fill="#9f0000"/>
<rect x="898.7" y="1228.54" width="83.6" height="11.31" fill="#950000"/>
<rect x="898.7" y="1218.23" width="83.6" height="11.31" fill="#8a0000"/>
<rect x="898.7" y="1207.92" width="83.6" height="11.31" fill="#800000"/>
<rect x="898.7" y="1197.61" width="83.6" height="11.31" fill="#750000"/>
<rect x="898.7" y="1187.30" width="83.6" height="11.31" fill="#6a0000"/>
<rect x="898.7" y="1176.99" width="83.6" height="11.31" fill="#600000"/>
<rect x="898.7" y="1166.68" width="83.6" height="11.31" fill="#550000"/>
<rect x="898.7" y="1156.37" width="83.6" height="11.31" fill="#4a0000"/>
<rect x="898.7" y="1146.05" width="83.6" height="11.31" fill="#400000"/>
<rect x="898.7" y="1135.74" width="83.6" height="11.31" fill="#350000"/>
<rect x="898.7" y="1125.43" width="83.6" height="11.31" fill="#2a0000"/>
<rect x="898.7" y="1115.12" width="83.6" height="11.31" fill="#200000"/>
<rect x="898.7" y="1104.81" width="83.6" height="11.31" fill="#150000"/>
<rect x="898.7" y="1094.50" width="83.6" height="11.31" fill="#0b0000"/>
</g>
<text class="cb" x="1005.5" y="1228.8">50</text>
<text class="cb" x="1005.5" y="1419.3">0</text>
<text class="cb" x="1005.5" y="1609.8">-50</text>
<path d="M982.3,1206.7 h-6 M982.3,1397.2 h-6 M982.3,1587.7 h-6" stroke="#262626" stroke-width="2.6" fill="none"/>
<rect x="898.7" y="1094.5" width="83.6" height="659.9" fill="none" stroke="#262626" stroke-width="3.1"/>
</g>
<g id="panel-d">
<defs>
<clipPath id="clip_d"><rect x="1456.3" y="1094.5" width="554.1" height="656.8"/></clipPath>
<g id="fill_d" filter="url(#soft)">
<rect x="1448.3" y="1086.5" width="570.1" height="672.8" fill="#ff9500"/>
<path fill="#ff5500" d="M1100.0,1081.4L1100.1,1308.9L1100.4,1314.7L1101.6,1320.9L1103.8,1329.7L1106.4,1337.9L1111.5,1350.4L1118.0,1362.2L1126.0,1373.4L1135.5,1384.4L1144.6,1393.4L1155.7,1403.2L1193.9,1433.7L1207.2,1444.9L1219.4,1456.4L1229.5,1467.7L1238.2,1479.7L1245.2,1492.2L1250.7,1505.7L1254.9,1520.4L1256.4,1528.4L1256.8,1536.2L1256.8,1761.4L1533.9,1761.4L1533.8,1533.9L1533.4,1528.2L1532.3,1521.9L1530.1,1513.2L1527.5,1504.9L1522.4,1492.4L1515.9,1480.7L1507.9,1469.4L1498.4,1458.4L1489.2,1449.4L1478.2,1439.7L1440.0,1409.2L1426.6,1397.9L1414.5,1386.4L1404.4,1375.2L1395.7,1363.2L1388.7,1350.7L1383.2,1337.2L1378.9,1322.4L1377.5,1314.4L1377.1,1306.7L1377.1,1081.4ZM1654.1,1081.4L1654.2,1308.9L1654.5,1314.7L1655.7,1320.9L1657.9,1329.7L1660.5,1337.9L1665.6,1350.4L1672.1,1362.2L1680.1,1373.4L1689.6,1384.4L1698.7,1393.4L1709.8,1403.2L1748.0,1433.7L1761.3,1444.9L1773.5,1456.4L1783.6,1467.7L1792.3,1479.7L1799.3,1492.2L1804.8,1505.7L1809.0,1520.4L1810.5,1528.4L1810.9,1536.2L1810.9,1761.4L2088.0,1761.4L2087.9,1533.9L2087.5,1528.2L2086.4,1521.9L2084.2,1513.2L2081.6,1504.9L2076.5,1492.4L2070.0,1480.7L2062.0,1469.4L2052.5,1458.4L2043.3,1449.4L2032.3,1439.7L1994.1,1409.2L1980.7,1397.9L1968.6,1386.4L1958.5,1375.2L1949.8,1363.2L1942.8,1350.7L1937.3,1337.2L1933.0,1322.4L1931.6,1314.4L1931.2,1306.7L1931.2,1081.4Z"/>
<path fill="#ff0b00" d="M1233.7,1159.2L1220.9,1160.4L1209.9,1162.7L1198.1,1166.4L1187.0,1171.4L1176.9,1177.4L1167.8,1184.4L1159.6,1192.4L1152.1,1201.7L1145.0,1212.9L1138.6,1225.9L1132.9,1240.4L1127.6,1257.2L1121.8,1280.4L1117.9,1300.9L1117.1,1311.7L1117.5,1315.7L1118.6,1320.2L1123.2,1331.7L1129.8,1343.7L1137.9,1355.2L1147.8,1366.4L1158.6,1376.9L1170.8,1387.2L1183.1,1396.4L1212.8,1417.4L1228.0,1429.7L1236.3,1437.7L1243.9,1446.2L1251.1,1455.4L1257.0,1464.4L1260.6,1471.2L1263.7,1478.2L1266.3,1485.7L1268.4,1493.7L1270.8,1507.2L1274.4,1539.2L1275.8,1548.4L1280.3,1569.9L1285.6,1589.9L1291.0,1605.9L1296.8,1619.9L1303.3,1632.4L1310.2,1642.9L1317.5,1651.7L1325.8,1659.4L1334.9,1666.2L1344.8,1671.9L1355.6,1676.7L1366.7,1680.2L1377.7,1682.4L1390.5,1683.7L1400.2,1683.7L1413.0,1682.4L1424.0,1680.2L1435.7,1676.4L1446.9,1671.4L1456.9,1665.4L1466.1,1658.4L1474.3,1650.4L1481.8,1641.2L1488.9,1629.9L1495.3,1616.9L1501.0,1602.4L1506.3,1585.7L1512.1,1562.4L1516.0,1541.9L1516.8,1531.2L1516.4,1527.2L1515.3,1522.7L1510.7,1511.2L1504.1,1499.2L1495.9,1487.7L1486.1,1476.4L1475.3,1465.9L1463.1,1455.7L1450.8,1446.4L1421.1,1425.4L1405.9,1413.2L1397.6,1405.2L1390.0,1396.7L1382.8,1387.4L1376.9,1378.4L1373.3,1371.7L1370.2,1364.7L1367.6,1357.2L1365.5,1349.2L1363.1,1335.7L1359.5,1303.7L1358.1,1294.4L1353.6,1272.9L1348.2,1252.9L1342.9,1236.9L1337.1,1222.9L1330.6,1210.4L1323.7,1199.9L1316.4,1191.2L1308.1,1183.4L1299.0,1176.7L1289.1,1170.9L1278.3,1166.2L1267.2,1162.7L1256.2,1160.4L1243.4,1159.2ZM1787.8,1159.2L1775.0,1160.4L1764.0,1162.7L1752.2,1166.4L1741.1,1171.4L1731.0,1177.4L1721.9,1184.4L1713.7,1192.4L1706.2,1201.7L1699.1,1212.9L1692.7,1225.9L1687.0,1240.4L1681.7,1257.2L1675.9,1280.4L1672.0,1300.9L1671.2,1311.7L1671.6,1315.7L1672.7,1320.2L1677.3,1331.7L1683.9,1343.7L1692.0,1355.2L1701.9,1366.4L1712.7,1376.9L1724.9,1387.2L1737.2,1396.4L1766.9,1417.4L1782.1,1429.7L1790.4,1437.7L1798.0,1446.2L1805.2,1455.4L1811.1,1464.4L1814.7,1471.2L1817.8,1478.2L1820.4,1485.7L1822.5,1493.7L1824.9,1507.2L1828.5,1539.2L1829.9,1548.4L1834.4,1569.9L1839.7,1589.9L1845.1,1605.9L1850.9,1619.9L1857.4,1632.4L1864.3,1642.9L1871.6,1651.7L1879.9,1659.4L1889.0,1666.2L1898.9,1671.9L1909.7,1676.7L1920.8,1680.2L1931.8,1682.4L1944.6,1683.7L1954.3,1683.7L1967.1,1682.4L1978.1,1680.2L1989.8,1676.4L2001.0,1671.4L2011.0,1665.4L2020.2,1658.4L2028.4,1650.4L2035.9,1641.2L2043.0,1629.9L2049.4,1616.9L2055.1,1602.4L2060.4,1585.7L2066.2,1562.4L2070.1,1541.9L2070.9,1531.2L2070.5,1527.2L2069.4,1522.7L2064.8,1511.2L2058.2,1499.2L2050.0,1487.7L2040.2,1476.4L2029.4,1465.9L2017.2,1455.7L2004.9,1446.4L1975.2,1425.4L1960.0,1413.2L1951.7,1405.2L1944.1,1396.7L1936.9,1387.4L1931.0,1378.4L1927.4,1371.7L1924.3,1364.7L1921.7,1357.2L1919.6,1349.2L1917.2,1335.7L1913.6,1303.7L1912.2,1294.4L1907.7,1272.9L1902.3,1252.9L1897.0,1236.9L1891.2,1222.9L1884.7,1210.4L1877.8,1199.9L1870.5,1191.2L1862.2,1183.4L1853.1,1176.7L1843.2,1170.9L1832.4,1166.2L1821.3,1162.7L1810.3,1160.4L1797.5,1159.2Z"/>
<path fill="#ca0000" d="M1235.9,1210.9L1226.8,1211.7L1217.5,1213.4L1209.2,1215.9L1200.7,1219.4L1192.4,1223.9L1184.6,1229.2L1177.4,1235.2L1170.3,1242.2L1162.4,1251.7L1155.0,1262.4L1148.0,1274.7L1141.6,1287.9L1137.3,1298.7L1135.1,1307.2L1134.8,1313.4L1136.2,1319.4L1138.5,1324.4L1141.7,1329.9L1146.0,1335.9L1150.9,1341.9L1162.3,1353.7L1175.8,1364.9L1191.6,1376.2L1208.1,1386.4L1223.5,1394.9L1253.3,1410.2L1263.4,1415.9L1272.3,1422.2L1278.7,1428.4L1282.9,1434.7L1286.2,1442.7L1290.2,1457.2L1292.4,1469.2L1293.0,1477.2L1293.0,1486.9L1290.5,1520.4L1290.9,1528.4L1292.0,1536.2L1293.9,1543.4L1297.2,1552.2L1301.9,1562.4L1307.3,1572.7L1315.6,1586.2L1324.7,1597.9L1334.2,1607.7L1344.5,1615.9L1355.5,1622.4L1367.4,1627.4L1373.3,1629.2L1380.3,1630.7L1392.7,1631.9L1398.0,1631.9L1407.1,1631.2L1416.4,1629.4L1424.7,1626.9L1433.2,1623.4L1441.5,1618.9L1449.3,1613.7L1456.5,1607.7L1463.6,1600.7L1471.5,1591.2L1478.8,1580.4L1485.9,1568.2L1492.3,1554.9L1496.6,1544.2L1498.8,1535.7L1499.1,1529.4L1497.7,1523.4L1495.4,1518.4L1492.2,1512.9L1487.9,1506.9L1483.0,1500.9L1471.5,1489.2L1458.1,1477.9L1442.3,1466.7L1425.8,1456.4L1410.4,1447.9L1380.6,1432.7L1370.5,1426.9L1361.6,1420.7L1355.2,1414.4L1351.0,1408.2L1347.7,1400.2L1343.7,1385.7L1341.5,1373.7L1340.9,1365.7L1340.9,1355.9L1343.4,1322.4L1343.0,1314.4L1341.9,1306.7L1340.0,1299.4L1336.7,1290.7L1332.0,1280.4L1326.6,1270.2L1318.2,1256.7L1309.2,1244.9L1299.7,1235.2L1289.3,1226.9L1278.4,1220.4L1266.5,1215.4L1260.6,1213.7L1253.6,1212.2L1241.2,1210.9ZM1790.0,1210.9L1780.9,1211.7L1771.6,1213.4L1763.3,1215.9L1754.8,1219.4L1746.5,1223.9L1738.7,1229.2L1731.5,1235.2L1724.4,1242.2L1716.5,1251.7L1709.1,1262.4L1702.1,1274.7L1695.7,1287.9L1691.4,1298.7L1689.2,1307.2L1688.9,1313.4L1690.3,1319.4L1692.6,1324.4L1695.8,1329.9L1700.1,1335.9L1705.0,1341.9L1716.4,1353.7L1729.9,1364.9L1745.7,1376.2L1762.2,1386.4L1777.6,1394.9L1807.4,1410.2L1817.5,1415.9L1826.4,1422.2L1832.8,1428.4L1837.0,1434.7L1840.3,1442.7L1844.3,1457.2L1846.5,1469.2L1847.1,1477.2L1847.1,1486.9L1844.6,1520.4L1845.0,1528.4L1846.1,1536.2L1848.0,1543.4L1851.3,1552.2L1856.0,1562.4L1861.4,1572.7L1869.7,1586.2L1878.8,1597.9L1888.3,1607.7L1898.6,1615.9L1909.6,1622.4L1921.5,1627.4L1927.4,1629.2L1934.4,1630.7L1946.8,1631.9L1952.1,1631.9L1961.2,1631.2L1970.5,1629.4L1978.8,1626.9L1987.3,1623.4L1995.6,1618.9L2003.4,1613.7L2010.6,1607.7L2017.7,1600.7L2025.6,1591.2L2032.9,1580.4L2040.0,1568.2L2046.4,1554.9L2050.7,1544.2L2052.9,1535.7L2053.2,1529.4L2051.8,1523.4L2049.5,1518.4L2046.3,1512.9L2042.0,1506.9L2037.1,1500.9L2025.6,1489.2L2012.2,1477.9L1996.4,1466.7L1979.9,1456.4L1964.5,1447.9L1934.7,1432.7L1924.6,1426.9L1915.7,1420.7L1909.3,1414.4L1905.1,1408.2L1901.8,1400.2L1897.8,1385.7L1895.6,1373.7L1895.0,1365.7L1895.0,1355.9L1897.5,1322.4L1897.1,1314.4L1896.0,1306.7L1894.1,1299.4L1890.8,1290.7L1886.1,1280.4L1880.7,1270.2L1872.3,1256.7L1863.3,1244.9L1853.8,1235.2L1843.4,1226.9L1832.5,1220.4L1820.6,1215.4L1814.7,1213.7L1807.7,1212.2L1795.3,1210.9Z"/>
<path fill="#8a0000" d="M1791.4,1249.2L1783.7,1249.7L1777.3,1250.7L1771.1,1252.2L1764.3,1254.4L1757.9,1257.2L1751.7,1260.4L1745.3,1264.4L1739.2,1268.9L1732.3,1274.9L1725.8,1281.4L1719.8,1288.4L1714.8,1295.2L1711.3,1301.2L1709.0,1306.4L1708.0,1310.9L1708.3,1315.2L1709.8,1319.4L1712.5,1323.9L1716.6,1328.9L1721.7,1334.2L1727.9,1339.7L1734.7,1344.9L1742.4,1350.2L1750.3,1354.9L1767.7,1363.7L1785.9,1370.7L1795.0,1373.4L1803.3,1375.4L1810.5,1376.7L1818.0,1377.4L1825.7,1377.4L1830.5,1376.9L1836.2,1375.7L1840.5,1374.2L1845.0,1371.9L1849.2,1369.2L1853.4,1365.7L1857.3,1361.7L1861.0,1357.2L1865.2,1350.9L1869.4,1343.4L1873.2,1335.7L1875.9,1328.7L1877.3,1323.4L1877.9,1318.7L1877.8,1313.7L1877.0,1308.9L1875.4,1304.2L1872.9,1299.2L1869.2,1293.4L1864.7,1287.4L1859.2,1281.2L1853.5,1275.4L1847.6,1270.2L1841.8,1265.7L1830.4,1258.7L1818.9,1253.7L1806.6,1250.4L1799.0,1249.4L1793.9,1249.2ZM1362.3,1465.4L1357.5,1465.9L1351.8,1467.2L1347.5,1468.7L1343.0,1470.9L1338.8,1473.7L1334.6,1477.2L1330.7,1481.2L1327.0,1485.7L1322.8,1491.9L1318.5,1499.4L1314.8,1507.2L1312.1,1514.2L1310.7,1519.4L1310.0,1524.2L1310.1,1529.2L1311.0,1533.9L1312.6,1538.7L1315.1,1543.7L1318.7,1549.4L1323.3,1555.4L1328.8,1561.7L1334.5,1567.4L1340.4,1572.7L1346.2,1577.2L1357.6,1584.2L1369.1,1589.2L1381.4,1592.4L1389.0,1593.4L1394.1,1593.7L1396.6,1593.7L1404.3,1593.2L1410.6,1592.2L1416.9,1590.7L1423.7,1588.4L1430.1,1585.7L1436.3,1582.4L1442.7,1578.4L1448.8,1573.9L1455.7,1567.9L1462.2,1561.4L1468.2,1554.4L1473.1,1547.7L1476.7,1541.7L1479.0,1536.4L1479.9,1531.9L1479.7,1527.7L1478.1,1523.4L1475.4,1518.9L1471.4,1513.9L1466.3,1508.7L1460.1,1503.2L1453.3,1497.9L1445.6,1492.7L1437.7,1487.9L1420.2,1479.2L1402.1,1472.2L1393.0,1469.4L1384.6,1467.4L1377.5,1466.2L1370.0,1465.4ZM1916.4,1465.4L1911.6,1465.9L1905.9,1467.2L1901.6,1468.7L1897.1,1470.9L1892.9,1473.7L1888.7,1477.2L1884.8,1481.2L1881.1,1485.7L1876.9,1491.9L1872.6,1499.4L1868.9,1507.2L1866.2,1514.2L1864.8,1519.4L1864.1,1524.2L1864.2,1529.2L1865.1,1533.9L1866.7,1538.7L1869.2,1543.7L1872.8,1549.4L1877.4,1555.4L1882.9,1561.7L1888.6,1567.4L1894.5,1572.7L1900.3,1577.2L1911.7,1584.2L1923.2,1589.2L1935.5,1592.4L1943.1,1593.4L1948.2,1593.7L1950.7,1593.7L1958.4,1593.2L1964.7,1592.2L1971.0,1590.7L1977.8,1588.4L1984.2,1585.7L1990.4,1582.4L1996.8,1578.4L2002.9,1573.9L2009.8,1567.9L2016.3,1561.4L2022.3,1554.4L2027.2,1547.7L2030.8,1541.7L2033.1,1536.4L2034.0,1531.9L2033.8,1527.7L2032.2,1523.4L2029.5,1518.9L2025.5,1513.9L2020.4,1508.7L2014.2,1503.2L2007.4,1497.9L1999.7,1492.7L1991.8,1487.9L1974.3,1479.2L1956.2,1472.2L1947.1,1469.4L1938.7,1467.4L1931.6,1466.2L1924.1,1465.4Z"/>
<path fill="#4a0000" d="M1786.8,1278.4L1776.4,1279.9L1767.3,1282.4L1758.0,1286.2L1749.0,1291.2L1740.8,1297.2L1734.9,1303.2L1732.8,1306.2L1731.5,1308.9L1730.8,1311.4L1730.9,1313.9L1731.5,1316.4L1732.9,1318.9L1737.4,1324.2L1744.8,1329.9L1754.1,1335.4L1764.5,1340.2L1775.4,1343.9L1785.7,1346.4L1796.8,1347.9L1809.2,1347.9L1817.9,1346.7L1826.5,1344.2L1834.6,1340.4L1841.8,1335.7L1848.1,1329.9L1852.6,1323.9L1854.8,1318.2L1855.0,1312.7L1853.1,1307.2L1849.1,1301.7L1842.7,1295.7L1834.7,1290.2L1826.2,1285.7L1817.3,1282.2L1807.7,1279.7L1798.5,1278.4ZM1378.8,1494.9L1370.1,1496.2L1361.5,1498.7L1353.4,1502.4L1346.2,1507.2L1339.9,1512.9L1335.4,1518.9L1333.1,1524.7L1333.0,1530.2L1334.9,1535.7L1338.9,1541.2L1345.3,1547.2L1353.3,1552.7L1361.8,1557.2L1370.7,1560.7L1380.3,1563.2L1389.5,1564.4L1401.2,1564.4L1411.6,1562.9L1420.7,1560.4L1430.0,1556.7L1439.0,1551.7L1447.2,1545.7L1453.1,1539.7L1455.2,1536.7L1456.5,1533.9L1457.1,1531.4L1457.1,1528.9L1456.4,1526.4L1455.1,1523.9L1450.6,1518.7L1443.2,1512.9L1433.9,1507.4L1423.4,1502.7L1412.6,1498.9L1402.3,1496.4L1391.2,1494.9ZM1932.9,1494.9L1924.2,1496.2L1915.6,1498.7L1907.5,1502.4L1900.3,1507.2L1894.0,1512.9L1889.5,1518.9L1887.2,1524.7L1887.1,1530.2L1889.0,1535.7L1893.0,1541.2L1899.4,1547.2L1907.4,1552.7L1915.9,1557.2L1924.8,1560.7L1934.4,1563.2L1943.6,1564.4L1955.3,1564.4L1965.7,1562.9L1974.8,1560.4L1984.1,1556.7L1993.1,1551.7L2001.3,1545.7L2007.2,1539.7L2009.3,1536.7L2010.6,1533.9L2011.2,1531.4L2011.2,1528.9L2010.5,1526.4L2009.2,1523.9L2004.7,1518.7L1997.3,1512.9L1988.0,1507.4L1977.5,1502.7L1966.7,1498.9L1956.4,1496.4L1945.3,1494.9Z"/>
<path fill="#0b0000" d="M1787.7,1302.2L1778.9,1303.7L1771.5,1306.4L1768.8,1308.2L1766.9,1309.9L1765.9,1311.7L1765.6,1313.7L1766.4,1315.7L1767.9,1317.4L1770.3,1319.2L1773.6,1320.9L1782.3,1323.7L1791.1,1324.9L1799.2,1324.9L1807.3,1323.7L1811.4,1322.4L1814.7,1320.9L1817.4,1319.2L1819.1,1317.4L1820.0,1315.7L1820.3,1313.7L1819.7,1311.7L1818.5,1309.9L1816.6,1308.2L1813.8,1306.4L1806.4,1303.7L1797.6,1302.2ZM1942.9,1517.9L1934.7,1519.2L1930.7,1520.4L1927.4,1521.9L1924.7,1523.7L1923.0,1525.4L1922.1,1527.2L1921.8,1529.2L1922.4,1531.2L1923.6,1532.9L1925.5,1534.7L1928.3,1536.4L1935.7,1539.2L1944.5,1540.7L1954.4,1540.7L1963.2,1539.2L1970.5,1536.4L1973.3,1534.7L1975.2,1532.9L1976.2,1531.2L1976.4,1529.2L1975.7,1527.2L1974.2,1525.4L1971.8,1523.7L1968.5,1521.9L1959.8,1519.2L1951.0,1517.9Z"/>
<path fill="#ffd400" d="M1510.8,1159.2L1497.9,1160.4L1486.9,1162.7L1475.2,1166.4L1464.1,1171.4L1454.0,1177.4L1444.8,1184.4L1436.6,1192.4L1429.2,1201.7L1422.1,1212.9L1415.7,1225.9L1409.9,1240.4L1404.7,1257.2L1398.9,1280.4L1395.0,1300.9L1394.1,1311.7L1394.6,1315.7L1395.6,1320.2L1400.2,1331.7L1406.9,1343.7L1415.0,1355.2L1424.8,1366.4L1435.7,1376.9L1447.8,1387.2L1460.1,1396.4L1489.9,1417.4L1505.0,1429.7L1513.3,1437.7L1520.9,1446.2L1528.1,1455.4L1534.0,1464.4L1537.7,1471.2L1540.7,1478.2L1543.3,1485.7L1545.5,1493.7L1547.9,1507.2L1551.4,1539.2L1552.8,1548.4L1557.4,1569.9L1562.7,1589.9L1568.0,1605.9L1573.8,1619.9L1580.3,1632.4L1587.2,1642.9L1594.6,1651.7L1602.8,1659.4L1611.9,1666.2L1621.9,1671.9L1632.7,1676.7L1643.8,1680.2L1654.7,1682.4L1667.6,1683.7L1677.2,1683.7L1690.1,1682.4L1701.0,1680.2L1712.8,1676.4L1723.9,1671.4L1734.0,1665.4L1743.1,1658.4L1751.4,1650.4L1758.8,1641.2L1765.9,1629.9L1772.3,1616.9L1778.1,1602.4L1783.3,1585.7L1789.1,1562.4L1793.0,1541.9L1793.8,1531.2L1793.4,1527.2L1792.3,1522.7L1787.8,1511.2L1781.1,1499.2L1773.0,1487.7L1763.2,1476.4L1752.3,1465.9L1740.2,1455.7L1727.8,1446.4L1698.1,1425.4L1683.0,1413.2L1674.7,1405.2L1667.0,1396.7L1659.9,1387.4L1654.0,1378.4L1650.3,1371.7L1647.2,1364.7L1644.6,1357.2L1642.5,1349.2L1640.1,1335.7L1636.6,1303.7L1635.2,1294.4L1630.6,1272.9L1625.3,1252.9L1620.0,1236.9L1614.2,1222.9L1607.7,1210.4L1600.7,1199.9L1593.4,1191.2L1585.2,1183.4L1576.1,1176.7L1566.1,1170.9L1555.3,1166.2L1544.2,1162.7L1533.3,1160.4L1520.4,1159.2ZM2064.9,1159.2L2052.0,1160.4L2041.0,1162.7L2029.3,1166.4L2018.2,1171.4L2008.1,1177.4L1998.9,1184.4L1990.7,1192.4L1983.3,1201.7L1976.2,1212.9L1969.8,1225.9L1964.0,1240.4L1958.8,1257.2L1953.0,1280.4L1949.1,1300.9L1948.2,1311.7L1948.7,1315.7L1949.7,1320.2L1954.3,1331.7L1961.0,1343.7L1969.1,1355.2L1978.9,1366.4L1989.8,1376.9L2001.9,1387.2L2014.2,1396.4L2044.0,1417.4L2059.1,1429.7L2067.4,1437.7L2075.0,1446.2L2082.2,1455.4L2088.1,1464.4L2091.8,1471.2L2094.8,1478.2L2097.4,1485.7L2099.6,1493.7L2102.0,1507.2L2105.5,1539.2L2106.9,1548.4L2111.5,1569.9L2116.8,1589.9L2122.1,1605.9L2127.9,1619.9L2134.4,1632.4L2141.3,1642.9L2148.7,1651.7L2156.9,1659.4L2166.0,1666.2L2176.0,1671.9L2186.8,1676.7L2197.9,1680.2L2208.8,1682.4L2221.7,1683.7L2231.3,1683.7L2244.2,1682.4L2255.1,1680.2L2266.9,1676.4L2278.0,1671.4L2288.1,1665.4L2297.2,1658.4L2305.5,1650.4L2312.9,1641.2L2320.0,1629.9L2326.4,1616.9L2332.2,1602.4L2337.4,1585.7L2343.2,1562.4L2347.1,1541.9L2347.9,1531.2L2347.5,1527.2L2346.4,1522.7L2341.9,1511.2L2335.2,1499.2L2327.1,1487.7L2317.3,1476.4L2306.4,1465.9L2294.3,1455.7L2281.9,1446.4L2252.2,1425.4L2237.1,1413.2L2228.8,1405.2L2221.1,1396.7L2214.0,1387.4L2208.1,1378.4L2204.4,1371.7L2201.3,1364.7L2198.7,1357.2L2196.6,1349.2L2194.2,1335.7L2190.7,1303.7L2189.3,1294.4L2184.7,1272.9L2179.4,1252.9L2174.1,1236.9L2168.3,1222.9L2161.8,1210.4L2154.8,1199.9L2147.5,1191.2L2139.3,1183.4L2130.2,1176.7L2120.2,1170.9L2109.4,1166.2L2098.3,1162.7L2087.4,1160.4L2074.5,1159.2Z"/>
<path fill="#ffff20" d="M1512.9,1210.9L1503.8,1211.7L1494.6,1213.4L1486.2,1215.9L1477.7,1219.4L1469.4,1223.9L1461.7,1229.2L1454.4,1235.2L1447.4,1242.2L1439.5,1251.7L1432.1,1262.4L1425.1,1274.7L1418.6,1287.9L1414.4,1298.7L1412.1,1307.2L1411.8,1313.4L1413.3,1319.4L1415.5,1324.4L1418.8,1329.9L1423.0,1335.9L1427.9,1341.9L1439.4,1353.7L1452.9,1364.9L1468.7,1376.2L1485.1,1386.4L1500.5,1394.9L1530.3,1410.2L1540.4,1415.9L1549.4,1422.2L1555.8,1428.4L1559.9,1434.7L1563.3,1442.7L1567.2,1457.2L1569.5,1469.2L1570.1,1477.2L1570.0,1486.9L1567.6,1520.4L1567.9,1528.4L1569.0,1536.2L1570.9,1543.4L1574.3,1552.2L1578.9,1562.4L1584.3,1572.7L1592.7,1586.2L1601.7,1597.9L1611.2,1607.7L1621.6,1615.9L1632.5,1622.4L1644.5,1627.4L1650.4,1629.2L1657.4,1630.7L1669.7,1631.9L1675.1,1631.9L1684.2,1631.2L1693.4,1629.4L1701.8,1626.9L1710.3,1623.4L1718.6,1618.9L1726.3,1613.7L1733.6,1607.7L1740.6,1600.7L1748.5,1591.2L1755.9,1580.4L1762.9,1568.2L1769.4,1554.9L1773.6,1544.2L1775.9,1535.7L1776.2,1529.4L1774.7,1523.4L1772.5,1518.4L1769.2,1512.9L1765.0,1506.9L1760.0,1500.9L1748.6,1489.2L1735.1,1477.9L1719.3,1466.7L1702.9,1456.4L1687.4,1447.9L1657.7,1432.7L1647.6,1426.9L1638.6,1420.7L1632.2,1414.4L1628.1,1408.2L1624.7,1400.2L1620.8,1385.7L1618.5,1373.7L1617.9,1365.7L1618.0,1355.9L1620.4,1322.4L1620.0,1314.4L1619.0,1306.7L1617.0,1299.4L1613.7,1290.7L1609.0,1280.4L1603.7,1270.2L1595.3,1256.7L1586.3,1244.9L1576.8,1235.2L1566.4,1226.9L1555.5,1220.4L1543.5,1215.4L1537.6,1213.7L1530.6,1212.2L1518.2,1210.9ZM2067.0,1210.9L2057.9,1211.7L2048.7,1213.4L2040.3,1215.9L2031.8,1219.4L2023.5,1223.9L2015.8,1229.2L2008.5,1235.2L2001.5,1242.2L1993.6,1251.7L1986.2,1262.4L1979.2,1274.7L1972.7,1287.9L1968.5,1298.7L1966.2,1307.2L1965.9,1313.4L1967.4,1319.4L1969.6,1324.4L1972.9,1329.9L1977.1,1335.9L1982.0,1341.9L1993.5,1353.7L2007.0,1364.9L2022.8,1376.2L2039.2,1386.4L2054.6,1394.9L2084.4,1410.2L2094.5,1415.9L2103.5,1422.2L2109.9,1428.4L2114.0,1434.7L2117.4,1442.7L2121.3,1457.2L2123.6,1469.2L2124.2,1477.2L2124.1,1486.9L2121.7,1520.4L2122.0,1528.4L2123.1,1536.2L2125.0,1543.4L2128.4,1552.2L2133.0,1562.4L2138.4,1572.7L2146.8,1586.2L2155.8,1597.9L2165.3,1607.7L2175.7,1615.9L2186.6,1622.4L2198.6,1627.4L2204.5,1629.2L2211.5,1630.7L2223.8,1631.9L2229.2,1631.9L2238.3,1631.2L2247.5,1629.4L2255.9,1626.9L2264.4,1623.4L2272.7,1618.9L2280.4,1613.7L2287.7,1607.7L2294.7,1600.7L2302.6,1591.2L2310.0,1580.4L2317.0,1568.2L2323.5,1554.9L2327.7,1544.2L2330.0,1535.7L2330.3,1529.4L2328.8,1523.4L2326.6,1518.4L2323.3,1512.9L2319.1,1506.9L2314.1,1500.9L2302.7,1489.2L2289.2,1477.9L2273.4,1466.7L2257.0,1456.4L2241.5,1447.9L2211.8,1432.7L2201.7,1426.9L2192.7,1420.7L2186.3,1414.4L2182.2,1408.2L2178.8,1400.2L2174.9,1385.7L2172.6,1373.7L2172.0,1365.7L2172.1,1355.9L2174.5,1322.4L2174.1,1314.4L2173.1,1306.7L2171.1,1299.4L2167.8,1290.7L2163.1,1280.4L2157.8,1270.2L2149.4,1256.7L2140.4,1244.9L2130.9,1235.2L2120.5,1226.9L2109.6,1220.4L2097.6,1215.4L2091.7,1213.7L2084.7,1212.2L2072.3,1210.9Z"/>
<path fill="#ffff8f" d="M1514.3,1249.2L1506.7,1249.7L1500.3,1250.7L1494.1,1252.2L1487.3,1254.4L1480.8,1257.2L1474.6,1260.4L1468.2,1264.4L1462.2,1268.9L1455.2,1274.9L1448.8,1281.4L1442.7,1288.4L1437.8,1295.2L1434.2,1301.2L1432.0,1306.4L1431.0,1310.9L1431.3,1315.2L1432.8,1319.4L1435.5,1323.9L1439.5,1328.9L1444.6,1334.2L1450.9,1339.7L1457.7,1344.9L1465.4,1350.2L1473.2,1354.9L1490.7,1363.7L1508.8,1370.7L1518.0,1373.4L1526.3,1375.4L1533.4,1376.7L1541.0,1377.4L1548.6,1377.4L1553.4,1376.9L1559.2,1375.7L1563.4,1374.2L1568.0,1371.9L1572.2,1369.2L1576.4,1365.7L1580.3,1361.7L1583.9,1357.2L1588.1,1350.9L1592.4,1343.4L1596.1,1335.7L1598.8,1328.7L1600.3,1323.4L1600.9,1318.7L1600.8,1313.7L1600.0,1308.9L1598.4,1304.2L1595.9,1299.2L1592.2,1293.4L1587.6,1287.4L1582.2,1281.2L1576.5,1275.4L1570.6,1270.2L1564.7,1265.7L1553.4,1258.7L1541.9,1253.7L1529.6,1250.4L1522.0,1249.4L1516.8,1249.2ZM2068.4,1249.2L2060.8,1249.7L2054.4,1250.7L2048.2,1252.2L2041.4,1254.4L2034.9,1257.2L2028.7,1260.4L2022.3,1264.4L2016.3,1268.9L2009.3,1274.9L2002.9,1281.4L1996.8,1288.4L1991.9,1295.2L1988.3,1301.2L1986.1,1306.4L1985.1,1310.9L1985.4,1315.2L1986.9,1319.4L1989.6,1323.9L1993.6,1328.9L1998.7,1334.2L2005.0,1339.7L2011.8,1344.9L2019.5,1350.2L2027.3,1354.9L2044.8,1363.7L2062.9,1370.7L2072.1,1373.4L2080.4,1375.4L2087.5,1376.7L2095.1,1377.4L2102.7,1377.4L2107.5,1376.9L2113.3,1375.7L2117.5,1374.2L2122.1,1371.9L2126.3,1369.2L2130.5,1365.7L2134.4,1361.7L2138.0,1357.2L2142.2,1350.9L2146.5,1343.4L2150.2,1335.7L2152.9,1328.7L2154.4,1323.4L2155.0,1318.7L2154.9,1313.7L2154.1,1308.9L2152.5,1304.2L2150.0,1299.2L2146.3,1293.4L2141.7,1287.4L2136.3,1281.2L2130.6,1275.4L2124.7,1270.2L2118.8,1265.7L2107.5,1258.7L2096.0,1253.7L2083.7,1250.4L2076.1,1249.4L2070.9,1249.2ZM1639.3,1465.4L1634.6,1465.9L1628.8,1467.2L1624.6,1468.7L1620.0,1470.9L1615.8,1473.7L1611.6,1477.2L1607.7,1481.2L1604.1,1485.7L1599.8,1491.9L1595.6,1499.4L1591.9,1507.2L1589.2,1514.2L1587.7,1519.4L1587.1,1524.2L1587.2,1529.2L1588.0,1533.9L1589.6,1538.7L1592.1,1543.7L1595.8,1549.4L1600.3,1555.4L1605.8,1561.7L1611.5,1567.4L1617.4,1572.7L1623.3,1577.2L1634.6,1584.2L1646.1,1589.2L1658.4,1592.4L1666.0,1593.4L1671.1,1593.7L1673.6,1593.7L1681.3,1593.2L1687.7,1592.2L1693.9,1590.7L1700.7,1588.4L1707.2,1585.7L1713.4,1582.4L1719.7,1578.4L1725.8,1573.9L1732.8,1567.9L1739.2,1561.4L1745.3,1554.4L1750.2,1547.7L1753.8,1541.7L1756.0,1536.4L1757.0,1531.9L1756.7,1527.7L1755.2,1523.4L1752.5,1518.9L1748.5,1513.9L1743.4,1508.7L1737.1,1503.2L1730.3,1497.9L1722.6,1492.7L1714.7,1487.9L1697.3,1479.2L1679.1,1472.2L1670.0,1469.4L1661.7,1467.4L1654.6,1466.2L1647.0,1465.4Z"/>
<path fill="#ffffef" d="M1509.8,1278.4L1499.3,1279.9L1490.2,1282.4L1481.0,1286.2L1471.9,1291.2L1463.7,1297.2L1457.8,1303.2L1455.7,1306.2L1454.4,1308.9L1453.8,1311.4L1453.8,1313.9L1454.5,1316.4L1455.8,1318.9L1460.4,1324.2L1467.7,1329.9L1477.1,1335.4L1487.5,1340.2L1498.3,1343.9L1508.6,1346.4L1519.7,1347.9L1532.1,1347.9L1540.8,1346.7L1549.5,1344.2L1557.6,1340.4L1564.8,1335.7L1571.1,1329.9L1575.5,1323.9L1577.8,1318.2L1577.9,1312.7L1576.0,1307.2L1572.1,1301.7L1565.6,1295.7L1557.7,1290.2L1549.1,1285.7L1540.2,1282.2L1530.6,1279.7L1521.4,1278.4ZM2063.9,1278.4L2053.4,1279.9L2044.3,1282.4L2035.1,1286.2L2026.0,1291.2L2017.8,1297.2L2011.9,1303.2L2009.8,1306.2L2008.5,1308.9L2007.9,1311.4L2007.9,1313.9L2008.6,1316.4L2009.9,1318.9L2014.5,1324.2L2021.8,1329.9L2031.2,1335.4L2041.6,1340.2L2052.4,1343.9L2062.7,1346.4L2073.8,1347.9L2086.2,1347.9L2094.9,1346.7L2103.6,1344.2L2111.7,1340.4L2118.9,1335.7L2125.2,1329.9L2129.6,1323.9L2131.9,1318.2L2132.0,1312.7L2130.1,1307.2L2126.2,1301.7L2119.7,1295.7L2111.8,1290.2L2103.2,1285.7L2094.3,1282.2L2084.7,1279.7L2075.5,1278.4ZM1655.8,1494.9L1647.2,1496.2L1638.5,1498.7L1630.4,1502.4L1623.2,1507.2L1616.9,1512.9L1612.4,1518.9L1610.2,1524.7L1610.1,1530.2L1612.0,1535.7L1615.9,1541.2L1622.4,1547.2L1630.3,1552.7L1638.8,1557.2L1647.8,1560.7L1657.4,1563.2L1666.6,1564.4L1678.2,1564.4L1688.7,1562.9L1697.8,1560.4L1707.0,1556.7L1716.1,1551.7L1724.2,1545.7L1730.2,1539.7L1732.3,1536.7L1733.6,1533.9L1734.2,1531.4L1734.2,1528.9L1733.5,1526.4L1732.2,1523.9L1727.6,1518.7L1720.2,1512.9L1710.9,1507.4L1700.5,1502.7L1689.6,1498.9L1679.4,1496.4L1668.2,1494.9Z"/>
<path fill="#ffffff" d="M1510.7,1302.2L1501.8,1303.7L1494.5,1306.4L1491.7,1308.2L1489.9,1309.9L1488.8,1311.7L1488.6,1313.7L1489.4,1315.7L1490.9,1317.4L1493.2,1319.2L1496.6,1320.9L1505.2,1323.7L1514.0,1324.9L1522.1,1324.9L1530.3,1323.7L1534.4,1322.4L1537.7,1320.9L1540.3,1319.2L1542.0,1317.4L1543.0,1315.7L1543.2,1313.7L1542.7,1311.7L1541.5,1309.9L1539.5,1308.2L1536.7,1306.4L1529.3,1303.7L1520.5,1302.2ZM1665.9,1517.9L1657.7,1519.2L1653.6,1520.4L1650.3,1521.9L1647.7,1523.7L1646.0,1525.4L1645.0,1527.2L1644.8,1529.2L1645.3,1531.2L1646.5,1532.9L1648.5,1534.7L1651.3,1536.4L1658.6,1539.2L1667.5,1540.7L1677.3,1540.7L1686.1,1539.2L1693.5,1536.4L1696.3,1534.7L1698.1,1532.9L1699.2,1531.2L1699.4,1529.2L1698.6,1527.2L1697.1,1525.4L1694.8,1523.7L1691.4,1521.9L1682.8,1519.2L1674.0,1517.9Z"/>
</g>
<clipPath id="clip_d_left"><rect x="1451.8" y="1093.0" width="4.5" height="659.8"/></clipPath>
<clipPath id="clip_d_top"><rect x="1454.8" y="1090.0" width="557.1" height="4.5"/></clipPath>
</defs>
<use href="#fill_d" clip-path="url(#clip_d_left)" opacity="0.42"/>
<use href="#fill_d" clip-path="url(#clip_d_top)" opacity="0.42"/>
<use href="#fill_d" clip-path="url(#clip_d)"/>
<rect x="2005.9" y="1094.5" width="4.5" height="656.8" fill="#fff" opacity="0.25"/>
<rect x="1456.3" y="1746.8" width="554.1" height="4.5" fill="#fff" opacity="0.25"/>
<path d="M1733.3,1751.3 v-6.0 M1733.3,1094.5 v6.0 M1456.3,1256.5 h6.0 M2010.4,1256.5 h-6.0 M1456.3,1422.7 h6.0 M2010.4,1422.7 h-6.0 M1456.3,1587.5 h6.0 M2010.4,1587.5 h-6.0" stroke="#262626" stroke-width="2.6" fill="none"/>
<rect x="1456.3" y="1094.5" width="554.1" height="656.8" fill="none" stroke="#262626" stroke-width="3.1"/>
<text class="t" x="1454.5" y="1842.9" text-anchor="middle">0</text>
<text class="t" x="1731.5" y="1842.9" text-anchor="middle">0.5</text>
<text class="t" x="2009.4" y="1842.9" text-anchor="middle">1</text>
<text class="t" x="1426.3" y="1281.7" text-anchor="end">0.5</text>
<text class="t" x="1426.3" y="1447.9" text-anchor="end">0</text>
<text class="t" x="1426.3" y="1612.7" text-anchor="end">-0.5</text>
<text class="m r" transform="translate(1686.81,1060.28) scale(0.7098,0.8200)">(</text>
<text class="m" transform="translate(1712.64,1060.07) scale(0.7191,0.7271)">d</text>
<text class="m r" transform="translate(1749.81,1060.28) scale(0.6962,0.8200)">)</text>
<text class="m" transform="translate(1637.32,1924.30) scale(0.8180,0.6923)">x</text>
<text class="m" transform="translate(1676.96,1924.30) scale(0.7814,0.7246)">k</text>
<text class="m r" transform="translate(1716.50,1940.99) scale(1.0109,1.1053)">/</text>
<text class="m r" transform="translate(1750.30,1923.60) scale(0.7325,0.7364)">2</text>
<text class="m" transform="translate(1786.84,1923.62) scale(0.7135,0.6774)">π</text>
<text class="m" style="stroke-width:2.6px" transform="translate(1269.30,1437.02) rotate(-90) scale(0.7792,0.7130)">z</text>
<g shape-rendering="crispEdges">
<rect x="2092.8" y="1090.0" width="85.1" height="4.5" fill="#0b0000" opacity="0.4"/>
<rect x="2089.8" y="1744.09" width="4.5" height="11.31" fill="#ffffff" opacity="0.28"/>
<rect x="2094.3" y="1744.09" width="83.6" height="11.31" fill="#ffffff"/>
<rect x="2089.8" y="1733.78" width="4.5" height="11.31" fill="#ffffef" opacity="0.28"/>
<rect x="2094.3" y="1733.78" width="83.6" height="11.31" fill="#ffffef"/>
<rect x="2089.8" y="1723.47" width="4.5" height="11.31" fill="#ffffdf" opacity="0.28"/>
<rect x="2094.3" y="1723.47" width="83.6" height="11.31" fill="#ffffdf"/>
<rect x="2089.8" y="1713.16" width="4.5" height="11.31" fill="#ffffcf" opacity="0.28"/>
<rect x="2094.3" y="1713.16" width="83.6" height="11.31" fill="#ffffcf"/>
<rect x="2089.8" y="1702.85" width="4.5" height="11.31" fill="#ffffbf" opacity="0.28"/>
<rect x="2094.3" y="1702.85" width="83.6" height="11.31" fill="#ffffbf"/>
<rect x="2089.8" y="1692.53" width="4.5" height="11.31" fill="#ffffaf" opacity="0.28"/>
<rect x="2094.3" y="1692.53" width="83.6" height="11.31" fill="#ffffaf"/>
<rect x="2089.8" y="1682.22" width="4.5" height="11.31" fill="#ffff9f" opacity="0.28"/>
<rect x="2094.3" y="1682.22" width="83.6" height="11.31" fill="#ffff9f"/>
<rect x="2089.8" y="1671.91" width="4.5" height="11.31" fill="#ffff8f" opacity="0.28"/>
<rect x="2094.3" y="1671.91" width="83.6" height="11.31" fill="#ffff8f"/>
<rect x="2089.8" y="1661.60" width="4.5" height="11.31" fill="#ffff80" opacity="0.28"/>
<rect x="2094.3" y="1661.60" width="83.6" height="11.31" fill="#ffff80"/>
<rect x="2089.8" y="1651.29" width="4.5" height="11.31" fill="#ffff70" opacity="0.28"/>
<rect x="2094.3" y="1651.29" width="83.6" height="11.31" fill="#ffff70"/>
<rect x="2089.8" y="1640.98" width="4.5" height="11.31" fill="#ffff60" opacity="0.28"/>
<rect x="2094.3" y="1640.98" width="83.6" height="11.31" fill="#ffff60"/>
<rect x="2089.8" y="1630.67" width="4.5" height="11.31" fill="#ffff50" opacity="0.28"/>
<rect x="2094.3" y="1630.67" width="83.6" height="11.31" fill="#ffff50"/>
<rect x="2089.8" y="1620.36" width="4.5" height="11.31" fill="#ffff40" opacity="0.28"/>
<rect x="2094.3" y="1620.36" width="83.6" height="11.31" fill="#ffff40"/>
<rect x="2089.8" y="1610.05" width="4.5" height="11.31" fill="#ffff30" opacity="0.28"/>
<rect x="2094.3" y="1610.05" width="83.6" height="11.31" fill="#ffff30"/>
<rect x="2089.8" y="1599.74" width="4.5" height="11.31" fill="#ffff20" opacity="0.28"/>
<rect x="2094.3" y="1599.74" width="83.6" height="11.31" fill="#ffff20"/>
<rect x="2089.8" y="1589.43" width="4.5" height="11.31" fill="#ffff10" opacity="0.28"/>
<rect x="2094.3" y="1589.43" width="83.6" height="11.31" fill="#ffff10"/>
<rect x="2089.8" y="1579.11" width="4.5" height="11.31" fill="#ffff00" opacity="0.28"/>
<rect x="2094.3" y="1579.11" width="83.6" height="11.31" fill="#ffff00"/>
<rect x="2089.8" y="1568.80" width="4.5" height="11.31" fill="#fff400" opacity="0.28"/>
<rect x="2094.3" y="1568.80" width="83.6" height="11.31" fill="#fff400"/>
<rect x="2089.8" y="1558.49" width="4.5" height="11.31" fill="#ffea00" opacity="0.28"/>
<rect x="2094.3" y="1558.49" width="83.6" height="11.31" fill="#ffea00"/>
<rect x="2089.8" y="1548.18" width="4.5" height="11.31" fill="#ffdf00" opacity="0.28"/>
<rect x="2094.3" y="1548.18" width="83.6" height="11.31" fill="#ffdf00"/>
<rect x="2089.8" y="1537.87" width="4.5" height="11.31" fill="#ffd400" opacity="0.28"/>
<rect x="2094.3" y="1537.87" width="83.6" height="11.31" fill="#ffd400"/>
<rect x="2089.8" y="1527.56" width="4.5" height="11.31" fill="#ffca00" opacity="0.28"/>
<rect x="2094.3" y="1527.56" width="83.6" height="11.31" fill="#ffca00"/>
<rect x="2089.8" y="1517.25" width="4.5" height="11.31" fill="#ffbf00" opacity="0.28"/>
<rect x="2094.3" y="1517.25" width="83.6" height="11.31" fill="#ffbf00"/>
<rect x="2089.8" y="1506.94" width="4.5" height="11.31" fill="#ffb500" opacity="0.28"/>
<rect x="2094.3" y="1506.94" width="83.6" height="11.31" fill="#ffb500"/>
<rect x="2089.8" y="1496.63" width="4.5" height="11.31" fill="#ffaa00" opacity="0.28"/>
<rect x="2094.3" y="1496.63" width="83.6" height="11.31" fill="#ffaa00"/>
<rect x="2089.8" y="1486.32" width="4.5" height="11.31" fill="#ff9f00" opacity="0.28"/>
<rect x="2094.3" y="1486.32" width="83.6" height="11.31" fill="#ff9f00"/>
<rect x="2089.8" y="1476.00" width="4.5" height="11.31" fill="#ff9500" opacity="0.28"/>
<rect x="2094.3" y="1476.00" width="83.6" height="11.31" fill="#ff9500"/>
<rect x="2089.8" y="1465.69" width="4.5" height="11.31" fill="#ff8a00" opacity="0.28"/>
<rect x="2094.3" y="1465.69" width="83.6" height="11.31" fill="#ff8a00"/>
<rect x="2089.8" y="1455.38" width="4.5" height="11.31" fill="#ff8000" opacity="0.28"/>
<rect x="2094.3" y="1455.38" width="83.6" height="11.31" fill="#ff8000"/>
<rect x="2089.8" y="1445.07" width="4.5" height="11.31" fill="#ff7500" opacity="0.28"/>
<rect x="2094.3" y="1445.07" width="83.6" height="11.31" fill="#ff7500"/>
<rect x="2089.8" y="1434.76" width="4.5" height="11.31" fill="#ff6a00" opacity="0.28"/>
<rect x="2094.3" y="1434.76" width="83.6" height="11.31" fill="#ff6a00"/>
<rect x="2089.8" y="1424.45" width="4.5" height="11.31" fill="#ff6000" opacity="0.28"/>
<rect x="2094.3" y="1424.45" width="83.6" height="11.31" fill="#ff6000"/>
<rect x="2089.8" y="1414.14" width="4.5" height="11.31" fill="#ff5500" opacity="0.28"/>
<rect x="2094.3" y="1414.14" width="83.6" height="11.31" fill="#ff5500"/>
<rect x="2089.8" y="1403.83" width="4.5" height="11.31" fill="#ff4a00" opacity="0.28"/>
<rect x="2094.3" y="1403.83" width="83.6" height="11.31" fill="#ff4a00"/>
<rect x="2089.8" y="1393.52" width="4.5" height="11.31" fill="#ff4000" opacity="0.28"/>
<rect x="2094.3" y="1393.52" width="83.6" height="11.31" fill="#ff4000"/>
<rect x="2089.8" y="1383.21" width="4.5" height="11.31" fill="#ff3500" opacity="0.28"/>
<rect x="2094.3" y="1383.21" width="83.6" height="11.31" fill="#ff3500"/>
<rect x="2089.8" y="1372.90" width="4.5" height="11.31" fill="#ff2a00" opacity="0.28"/>
<rect x="2094.3" y="1372.90" width="83.6" height="11.31" fill="#ff2a00"/>
<rect x="2089.8" y="1362.58" width="4.5" height="11.31" fill="#ff2000" opacity="0.28"/>
<rect x="2094.3" y="1362.58" width="83.6" height="11.31" fill="#ff2000"/>
<rect x="2089.8" y="1352.27" width="4.5" height="11.31" fill="#ff1500" opacity="0.28"/>
<rect x="2094.3" y="1352.27" width="83.6" height="11.31" fill="#ff1500"/>
<rect x="2089.8" y="1341.96" width="4.5" height="11.31" fill="#ff0b00" opacity="0.28"/>
<rect x="2094.3" y="1341.96" width="83.6" height="11.31" fill="#ff0b00"/>
<rect x="2089.8" y="1331.65" width="4.5" height="11.31" fill="#ff0000" opacity="0.28"/>
<rect x="2094.3" y="1331.65" width="83.6" height="11.31" fill="#ff0000"/>
<rect x="2089.8" y="1321.34" width="4.5" height="11.31" fill="#f40000" opacity="0.28"/>
<rect x="2094.3" y="1321.34" width="83.6" height="11.31" fill="#f40000"/>
<rect x="2089.8" y="1311.03" width="4.5" height="11.31" fill="#ea0000" opacity="0.28"/>
<rect x="2094.3" y="1311.03" width="83.6" height="11.31" fill="#ea0000"/>
<rect x="2089.8" y="1300.72" width="4.5" height="11.31" fill="#df0000" opacity="0.28"/>
<rect x="2094.3" y="1300.72" width="83.6" height="11.31" fill="#df0000"/>
<rect x="2089.8" y="1290.41" width="4.5" height="11.31" fill="#d40000" opacity="0.28"/>
<rect x="2094.3" y="1290.41" width="83.6" height="11.31" fill="#d40000"/>
<rect x="2089.8" y="1280.10" width="4.5" height="11.31" fill="#ca0000" opacity="0.28"/>
<rect x="2094.3" y="1280.10" width="83.6" height="11.31" fill="#ca0000"/>
<rect x="2089.8" y="1269.79" width="4.5" height="11.31" fill="#bf0000" opacity="0.28"/>
<rect x="2094.3" y="1269.79" width="83.6" height="11.31" fill="#bf0000"/>
<rect x="2089.8" y="1259.47" width="4.5" height="11.31" fill="#b50000" opacity="0.28"/>
<rect x="2094.3" y="1259.47" width="83.6" height="11.31" fill="#b50000"/>
<rect x="2089.8" y="1249.16" width="4.5" height="11.31" fill="#aa0000" opacity="0.28"/>
<rect x="2094.3" y="1249.16" width="83.6" height="11.31" fill="#aa0000"/>
<rect x="2089.8" y="1238.85" width="4.5" height="11.31" fill="#9f0000" opacity="0.28"/>
<rect x="2094.3" y="1238.85" width="83.6" height="11.31" fill="#9f0000"/>
<rect x="2089.8" y="1228.54" width="4.5" height="11.31" fill="#950000" opacity="0.28"/>
<rect x="2094.3" y="1228.54" width="83.6" height="11.31" fill="#950000"/>
<rect x="2089.8" y="1218.23" width="4.5" height="11.31" fill="#8a0000" opacity="0.28"/>
<rect x="2094.3" y="1218.23" width="83.6" height="11.31" fill="#8a0000"/>
<rect x="2089.8" y="1207.92" width="4.5" height="11.31" fill="#800000" opacity="0.28"/>
<rect x="2094.3" y="1207.92" width="83.6" height="11.31" fill="#800000"/>
<rect x="2089.8" y="1197.61" width="4.5" height="11.31" fill="#750000" opacity="0.28"/>
<rect x="2094.3" y="1197.61" width="83.6" height="11.31" fill="#750000"/>
<rect x="2089.8" y="1187.30" width="4.5" height="11.31" fill="#6a0000" opacity="0.28"/>
<rect x="2094.3" y="1187.30" width="83.6" height="11.31" fill="#6a0000"/>
<rect x="2089.8" y="1176.99" width="4.5" height="11.31" fill="#600000" opacity="0.28"/>
<rect x="2094.3" y="1176.99" width="83.6" height="11.31" fill="#600000"/>
<rect x="2089.8" y="1166.68" width="4.5" height="11.31" fill="#550000" opacity="0.28"/>
<rect x="2094.3" y="1166.68" width="83.6" height="11.31" fill="#550000"/>
<rect x="2089.8" y="1156.37" width="4.5" height="11.31" fill="#4a0000" opacity="0.28"/>
<rect x="2094.3" y="1156.37" width="83.6" height="11.31" fill="#4a0000"/>
<rect x="2089.8" y="1146.05" width="4.5" height="11.31" fill="#400000" opacity="0.28"/>
<rect x="2094.3" y="1146.05" width="83.6" height="11.31" fill="#400000"/>
<rect x="2089.8" y="1135.74" width="4.5" height="11.31" fill="#350000" opacity="0.28"/>
<rect x="2094.3" y="1135.74" width="83.6" height="11.31" fill="#350000"/>
<rect x="2089.8" y="1125.43" width="4.5" height="11.31" fill="#2a0000" opacity="0.28"/>
<rect x="2094.3" y="1125.43" width="83.6" height="11.31" fill="#2a0000"/>
<rect x="2089.8" y="1115.12" width="4.5" height="11.31" fill="#200000" opacity="0.28"/>
<rect x="2094.3" y="1115.12" width="83.6" height="11.31" fill="#200000"/>
<rect x="2089.8" y="1104.81" width="4.5" height="11.31" fill="#150000" opacity="0.28"/>
<rect x="2094.3" y="1104.81" width="83.6" height="11.31" fill="#150000"/>
<rect x="2089.8" y="1094.50" width="4.5" height="11.31" fill="#0b0000" opacity="0.28"/>
<rect x="2094.3" y="1094.50" width="83.6" height="11.31" fill="#0b0000"/>
</g>
<text class="cb" x="2201.1" y="1116.6">100</text>
<text class="cb" x="2201.1" y="1277.9">50</text>
<text class="cb" x="2201.1" y="1439.1">0</text>
<text class="cb" x="2201.1" y="1600.4">-50</text>
<text class="cb" x="2201.1" y="1761.7">-100</text>
<path d="M2177.9,1255.8 h-6 M2177.9,1417.0 h-6 M2177.9,1578.3 h-6 M2177.9,1739.6 h-6" stroke="#262626" stroke-width="2.6" fill="none"/>
<rect x="2094.3" y="1094.5" width="83.6" height="659.9" fill="none" stroke="#262626" stroke-width="3.1"/>
</g>
</svg></body></html>
